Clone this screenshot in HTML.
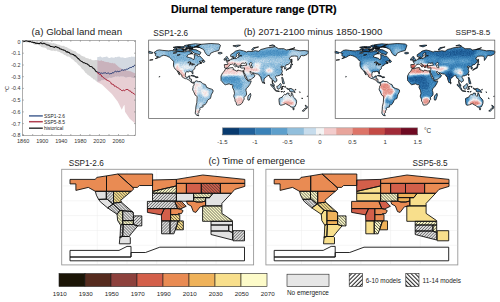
<!DOCTYPE html>
<html><head><meta charset="utf-8"><style>html,body{margin:0;padding:0;background:#fff;}svg{display:block;}</style></head>
<body><svg width="500" height="302" viewBox="0 0 500 302" font-family='"Liberation Sans", sans-serif'>
<defs>
<filter id="cmap" color-interpolation-filters="sRGB" x="0" y="0" width="100%" height="100%">
<feGaussianBlur in="SourceGraphic" stdDeviation="1.0" result="b"/>
<feTurbulence type="fractalNoise" baseFrequency="0.85" numOctaves="2" seed="5" result="n"/>
<feColorMatrix in="n" type="matrix" values="1 0 0 0 0  1 0 0 0 0  1 0 0 0 0  0 0 0 0 1" result="n2"/>
<feComposite in="b" in2="n2" operator="arithmetic" k1="0" k2="1" k3="0.14" k4="-0.07" result="bn"/>
<feComponentTransfer in="bn"><feFuncR type="table" tableValues="0.031 0.125 0.227 0.365 0.573 0.780 0.957 0.953 0.910 0.867 0.769 0.627 0.431"/><feFuncG type="table" tableValues="0.227 0.376 0.510 0.624 0.749 0.863 0.957 0.800 0.647 0.455 0.290 0.165 0.039"/><feFuncB type="table" tableValues="0.431 0.604 0.722 0.800 0.863 0.925 0.957 0.800 0.612 0.408 0.271 0.220 0.133"/><feFuncA type="linear" slope="0" intercept="1"/></feComponentTransfer>
</filter>
<filter id="blur" x="-20%" y="-20%" width="140%" height="140%"><feGaussianBlur stdDeviation="1.5"/></filter>
<filter id="noise" x="0" y="0" width="100%" height="100%"><feTurbulence type="fractalNoise" baseFrequency="0.9" numOctaves="1" seed="3"/><feColorMatrix type="matrix" values="0 0 0 0 1  0 0 0 0 1  0 0 0 0 1  0 0 0 3 -1.4"/></filter>
<pattern id="h1" patternUnits="userSpaceOnUse" width="2.9" height="2.9" patternTransform="rotate(45)"><rect width="2.9" height="2.9" fill="#fff"/><line x1="1.45" y1="0" x2="1.45" y2="2.9" stroke="#222" stroke-width="1.05"/></pattern>
<pattern id="h2" patternUnits="userSpaceOnUse" width="2.9" height="2.9" patternTransform="rotate(-45)"><rect width="2.9" height="2.9" fill="#fff"/><line x1="1.45" y1="0" x2="1.45" y2="2.9" stroke="#222" stroke-width="1.05"/></pattern>
<pattern id="mh1" patternUnits="userSpaceOnUse" width="2.1" height="2.1" patternTransform="rotate(45)"><line x1="1.05" y1="0" x2="1.05" y2="2.1" stroke="#333" stroke-width="0.75" stroke-opacity="0.72"/></pattern>
<pattern id="mh2" patternUnits="userSpaceOnUse" width="2.1" height="2.1" patternTransform="rotate(-45)"><line x1="1.05" y1="0" x2="1.05" y2="2.1" stroke="#333" stroke-width="0.75" stroke-opacity="0.72"/></pattern>
</defs>
<rect width="500" height="302" fill="#fff"/>
<text x="171" y="13" font-size="10.7" font-weight="bold" fill="#000" stroke="#000" stroke-width="0.2" textLength="165.6" lengthAdjust="spacingAndGlyphs">Diurnal temperature range (DTR)</text>
<polygon points="23.0,40.1 23.7,40.7 24.4,40.9 25.1,40.6 25.8,40.6 26.5,40.6 27.2,40.9 28.0,41.1 28.7,40.6 29.4,40.3 30.1,40.9 30.8,40.9 31.5,41.2 32.2,40.7 32.9,40.8 33.6,41.2 34.3,40.9 35.0,41.5 35.8,41.8 36.5,41.1 37.2,40.8 37.9,41.1 38.6,41.7 39.3,41.5 40.0,41.2 40.7,41.4 41.4,41.1 42.1,41.1 42.9,41.4 43.6,41.6 44.3,41.5 45.0,41.5 45.7,41.5 46.4,41.8 47.1,41.8 47.9,41.6 48.6,42.3 49.3,42.5 50.0,42.7 50.8,42.4 51.5,43.1 52.2,43.4 53.0,42.9 53.8,42.9 54.5,43.4 55.2,43.6 56.0,44.1 56.8,44.0 57.5,44.5 58.2,44.7 59.0,44.5 59.8,44.9 60.5,45.4 61.2,45.8 62.0,45.8 62.8,46.1 63.5,45.8 64.2,46.0 65.0,46.8 65.8,47.0 66.5,47.0 67.2,47.5 68.0,48.1 68.8,48.6 69.5,48.8 70.2,49.1 71.0,49.5 71.8,50.1 72.5,50.4 73.2,50.6 74.0,51.0 74.8,51.0 75.5,51.2 76.2,52.1 77.0,53.1 77.8,53.5 78.5,53.7 79.2,53.8 80.0,54.3 80.8,55.3 81.6,55.8 82.4,56.0 83.2,56.6 84.0,56.5 84.8,56.9 85.6,57.8 86.4,58.0 87.2,58.2 88.0,58.3 88.8,58.7 89.6,59.3 90.4,58.8 91.2,59.4 92.0,59.9 92.8,60.2 93.6,60.2 94.4,60.3 95.1,60.1 95.9,60.1 96.7,60.0 97.5,59.6 97.5,82.2 96.7,81.5 95.9,81.0 95.1,79.9 94.4,79.6 93.6,79.4 92.8,78.4 92.0,77.7 91.2,77.6 90.4,76.4 89.6,76.0 88.8,75.6 88.0,74.7 87.2,74.4 86.4,73.2 85.6,72.9 84.8,71.7 84.0,70.7 83.2,69.4 82.4,69.2 81.6,68.4 80.8,67.1 80.0,66.2 79.2,65.5 78.4,64.9 77.6,64.0 76.8,63.1 76.0,62.3 75.2,61.9 74.5,61.3 73.8,60.3 73.0,60.1 72.2,59.1 71.5,58.9 70.8,57.8 70.0,57.6 69.3,56.8 68.5,56.6 67.8,56.5 67.1,56.4 66.4,56.0 65.6,55.3 64.9,55.0 64.2,54.9 63.5,54.3 62.7,53.5 62.0,53.5 61.2,52.9 60.5,52.8 59.8,52.1 59.0,51.9 58.2,51.6 57.5,51.5 56.8,51.1 56.0,50.6 55.3,51.2 54.5,50.9 53.8,50.5 53.1,50.8 52.4,50.7 51.6,50.7 50.9,50.4 50.2,50.3 49.5,50.1 48.7,49.6 48.0,49.9 47.2,49.6 46.5,48.6 45.8,48.0 45.0,47.8 44.2,47.4 43.5,47.5 42.8,47.5 42.0,47.1 41.2,46.9 40.5,46.0 39.8,45.6 39.0,45.3 38.2,44.7 37.5,44.6 36.8,44.7 36.0,44.7 35.2,44.7 34.5,44.8 33.8,44.3 33.0,43.6 32.2,43.0 31.5,42.8 30.8,42.5 30.0,42.7 29.3,42.6 28.6,42.5 27.9,42.3 27.2,42.6 26.5,42.5 25.8,42.3 25.1,41.7 24.4,42.0 23.7,42.7 23.0,42.5" fill="#d6d6d6"/><polygon points="97.2,60.1 97.9,60.4 98.6,60.4 99.3,60.7 100.0,60.9 100.7,60.5 101.5,60.3 102.2,61.1 102.9,60.9 103.6,60.9 104.3,61.7 105.0,61.6 105.7,62.0 106.4,62.0 107.2,62.2 107.9,61.9 108.6,62.2 109.3,62.8 110.1,62.8 110.8,63.0 111.5,63.2 112.2,62.7 113.0,63.2 113.7,63.4 114.4,63.3 115.1,63.4 115.9,64.5 116.6,65.0 117.4,65.7 118.1,66.5 118.8,67.0 119.6,67.7 120.3,67.8 121.1,68.5 121.8,68.8 122.5,69.4 123.3,69.8 124.0,69.4 124.8,69.3 125.5,69.5 126.3,70.4 127.0,70.5 127.7,70.9 128.5,70.8 129.2,71.1 130.0,71.2 130.7,71.3 131.5,71.7 132.2,72.0 133.0,72.6 133.7,72.8 134.5,73.1 135.3,73.2 135.3,123.5 129.7,118.7 125.0,111.7 124.5,104.8 123.5,106.0 121.8,109.8 117.8,101.8 111.9,93.9 101.9,84.5 97.2,82.0" fill="#e7cfd4"/><polygon points="97.2,57.2 97.9,56.9 98.7,56.9 99.4,56.7 100.1,56.5 100.8,56.6 101.5,57.2 102.3,57.4 103.0,57.4 103.7,56.9 104.4,57.0 105.1,56.9 105.8,56.7 106.5,56.6 107.2,56.6 107.9,57.4 108.6,57.8 109.3,58.0 110.0,58.1 110.7,57.5 111.5,57.2 112.2,57.4 112.9,57.5 113.6,57.7 114.4,57.8 115.1,57.1 115.8,57.1 116.5,57.2 117.3,57.1 118.0,56.6 118.7,56.8 119.5,56.5 120.2,57.2 120.9,57.6 121.6,57.5 122.4,57.2 123.1,57.7 123.8,57.6 124.5,57.9 125.3,58.1 126.0,57.9 126.7,57.6 127.4,57.6 128.1,57.4 128.9,57.0 129.6,56.9 130.3,57.3 131.0,56.8 131.7,56.5 132.4,56.8 133.2,56.7 133.9,56.8 134.6,56.8 135.3,56.7 135.3,78.1 134.5,77.8 133.7,78.0 133.0,78.0 132.2,77.4 131.5,77.6 130.7,77.1 130.0,76.8 129.2,76.9 128.5,77.0 127.8,77.1 127.0,77.2 126.3,77.6 125.5,77.4 124.8,77.0 124.0,76.8 123.3,76.2 122.5,76.5 121.8,76.3 121.1,76.6 120.3,76.3 119.6,76.8 118.8,76.7 118.1,76.1 117.3,76.4 116.6,76.8 115.9,76.2 115.1,76.6 114.4,77.1 113.6,77.0 112.9,77.6 112.1,77.3 111.4,77.9 110.7,77.9 110.0,77.4 109.3,77.6 108.6,77.9 107.9,78.5 107.1,78.6 106.4,78.6 105.7,79.0 105.0,79.2 104.3,80.1 103.6,80.0 102.9,80.2 102.2,79.9 101.5,80.1 100.8,81.1 100.0,81.2 99.3,81.4 98.6,81.4 97.9,81.4 97.2,81.4" fill="#d3d9e1"/><clipPath id="pc"><polygon points="97.2,60.1 97.9,60.4 98.6,60.4 99.3,60.7 100.0,60.9 100.7,60.5 101.5,60.3 102.2,61.1 102.9,60.9 103.6,60.9 104.3,61.7 105.0,61.6 105.7,62.0 106.4,62.0 107.2,62.2 107.9,61.9 108.6,62.2 109.3,62.8 110.1,62.8 110.8,63.0 111.5,63.2 112.2,62.7 113.0,63.2 113.7,63.4 114.4,63.3 115.1,63.4 115.9,64.5 116.6,65.0 117.4,65.7 118.1,66.5 118.8,67.0 119.6,67.7 120.3,67.8 121.1,68.5 121.8,68.8 122.5,69.4 123.3,69.8 124.0,69.4 124.8,69.3 125.5,69.5 126.3,70.4 127.0,70.5 127.7,70.9 128.5,70.8 129.2,71.1 130.0,71.2 130.7,71.3 131.5,71.7 132.2,72.0 133.0,72.6 133.7,72.8 134.5,73.1 135.3,73.2 135.3,123.5 129.7,118.7 125.0,111.7 124.5,104.8 123.5,106.0 121.8,109.8 117.8,101.8 111.9,93.9 101.9,84.5 97.2,82.0"/></clipPath><polygon clip-path="url(#pc)" points="97.2,57.2 97.9,56.9 98.7,56.9 99.4,56.7 100.1,56.5 100.8,56.6 101.5,57.2 102.3,57.4 103.0,57.4 103.7,56.9 104.4,57.0 105.1,56.9 105.8,56.7 106.5,56.6 107.2,56.6 107.9,57.4 108.6,57.8 109.3,58.0 110.0,58.1 110.7,57.5 111.5,57.2 112.2,57.4 112.9,57.5 113.6,57.7 114.4,57.8 115.1,57.1 115.8,57.1 116.5,57.2 117.3,57.1 118.0,56.6 118.7,56.8 119.5,56.5 120.2,57.2 120.9,57.6 121.6,57.5 122.4,57.2 123.1,57.7 123.8,57.6 124.5,57.9 125.3,58.1 126.0,57.9 126.7,57.6 127.4,57.6 128.1,57.4 128.9,57.0 129.6,56.9 130.3,57.3 131.0,56.8 131.7,56.5 132.4,56.8 133.2,56.7 133.9,56.8 134.6,56.8 135.3,56.7 135.3,78.1 134.5,77.8 133.7,78.0 133.0,78.0 132.2,77.4 131.5,77.6 130.7,77.1 130.0,76.8 129.2,76.9 128.5,77.0 127.8,77.1 127.0,77.2 126.3,77.6 125.5,77.4 124.8,77.0 124.0,76.8 123.3,76.2 122.5,76.5 121.8,76.3 121.1,76.6 120.3,76.3 119.6,76.8 118.8,76.7 118.1,76.1 117.3,76.4 116.6,76.8 115.9,76.2 115.1,76.6 114.4,77.1 113.6,77.0 112.9,77.6 112.1,77.3 111.4,77.9 110.7,77.9 110.0,77.4 109.3,77.6 108.6,77.9 107.9,78.5 107.1,78.6 106.4,78.6 105.7,79.0 105.0,79.2 104.3,80.1 103.6,80.0 102.9,80.2 102.2,79.9 101.5,80.1 100.8,81.1 100.0,81.2 99.3,81.4 98.6,81.4 97.9,81.4 97.2,81.4" fill="#c9b2bc"/><polyline points="23.2,41.4 23.9,41.6 24.6,41.4 25.4,41.0 26.1,40.5 26.8,41.0 27.5,41.1 28.2,41.5 29.0,41.3 29.7,41.7 30.4,41.3 31.1,41.9 31.8,42.3 32.5,42.2 33.2,42.4 33.9,42.8 34.6,42.5 35.3,42.9 36.0,43.5 36.8,43.1 37.6,43.4 38.4,43.5 39.2,43.7 40.0,43.2 40.8,42.6 41.5,43.3 42.2,43.8 42.9,43.7 43.6,43.3 44.3,43.3 45.0,43.9 45.7,43.9 46.4,44.8 47.1,44.9 47.8,44.7 48.5,45.2 49.2,45.2 49.9,46.0 50.6,46.5 51.3,46.4 52.0,46.6 52.8,46.8 53.6,47.1 54.4,47.5 55.2,46.6 56.0,46.6 56.7,47.2 57.4,47.3 58.1,47.8 58.8,47.7 59.6,48.7 60.3,49.0 61.0,48.8 61.7,49.5 62.4,49.7 63.1,49.7 63.8,50.2 64.5,50.2 65.2,50.5 65.9,51.5 66.6,52.0 67.3,51.6 68.0,52.5 68.7,52.2 69.4,52.6 70.1,53.6 70.8,54.0 71.5,54.0 72.3,54.3 73.0,54.6 73.7,54.6 74.4,55.8 75.1,55.5 75.8,56.1 76.5,57.1 77.2,57.4 77.9,58.6 78.6,58.6 79.3,59.7 80.0,60.4 80.7,60.8 81.4,61.5 82.1,61.5 82.8,62.2 83.5,62.7 84.2,62.8 85.0,63.1 85.7,63.6 86.4,63.8 87.1,63.7 87.8,64.6 88.5,64.9 89.2,65.5 89.9,66.5 90.6,66.5 91.4,66.6 92.1,67.0 92.8,68.0 93.5,68.5 94.2,68.9 95.0,69.9 95.8,71.3 96.7,71.7 97.5,72.4" fill="none" stroke="#111" stroke-width="1.05" stroke-linejoin="round"/><polyline points="97.5,72.4 98.2,72.2 98.9,72.9 99.6,72.6 100.3,73.2 101.0,73.4 101.7,73.0 102.4,73.4 103.1,72.9 103.9,73.2 104.6,72.9 105.3,72.7 106.0,73.1 106.7,73.8 107.4,73.1 108.1,72.9 108.9,73.3 109.6,73.9 110.3,73.7 111.0,73.3 111.7,73.7 112.4,72.6 113.1,73.1 113.9,72.4 114.6,71.8 115.3,71.3 116.0,71.3 116.7,71.9 117.4,71.3 118.1,71.5 118.9,71.7 119.6,71.3 120.3,71.3 121.0,70.6 121.7,70.0 122.4,69.9 123.1,70.3 123.9,70.2 124.6,69.8 125.3,69.9 126.0,69.7 126.7,69.1 127.4,69.2 128.1,69.0 128.9,68.1 129.6,67.8 130.3,67.5 131.0,67.6 131.7,67.4 132.4,66.5 133.2,66.9 133.9,65.8 134.6,65.5 135.3,65.7" fill="none" stroke="#1f3470" stroke-width="0.95" stroke-linejoin="round"/><polyline points="97.5,72.2 98.2,73.7 98.9,73.5 99.6,74.5 100.3,74.5 101.1,74.9 101.8,76.6 102.5,76.6 103.2,77.5 103.9,78.0 104.7,78.5 105.4,79.1 106.2,79.2 106.9,80.5 107.7,80.4 108.4,80.8 109.2,80.9 109.9,81.7 110.7,82.5 111.4,84.0 112.2,84.3 112.9,84.3 113.7,84.7 114.5,86.3 115.3,85.9 116.2,86.8 117.0,87.2 117.8,88.0 118.5,88.1 119.3,88.8 120.0,89.1 120.8,89.7 121.5,90.5 122.3,90.7 123.0,90.3 123.8,90.1 124.6,90.7 125.4,90.2 126.2,89.3 127.0,89.8 127.8,89.3 128.5,90.1 129.3,91.0 130.0,90.9 130.8,91.3 131.5,92.5 132.2,92.4 133.0,93.5 133.7,93.4 134.5,94.3 135.3,94.9" fill="none" stroke="#a0142a" stroke-width="0.95" stroke-linejoin="round"/><rect x="22.6" y="40.5" width="112.70000000000002" height="94.80000000000001" fill="none" stroke="#7a7a7a" stroke-width="0.6"/><line x1="22.6" y1="41.5" x2="23.8" y2="41.5" stroke="#555" stroke-width="0.5"/><line x1="135.3" y1="41.5" x2="134.10000000000002" y2="41.5" stroke="#555" stroke-width="0.5"/><text x="20.4" y="43.5" text-anchor="end" font-size="5.3" fill="#333">0</text><line x1="22.6" y1="53.2" x2="23.8" y2="53.2" stroke="#555" stroke-width="0.5"/><line x1="135.3" y1="53.2" x2="134.10000000000002" y2="53.2" stroke="#555" stroke-width="0.5"/><text x="20.4" y="55.2" text-anchor="end" font-size="5.3" fill="#333">-0.1</text><line x1="22.6" y1="65.0" x2="23.8" y2="65.0" stroke="#555" stroke-width="0.5"/><line x1="135.3" y1="65.0" x2="134.10000000000002" y2="65.0" stroke="#555" stroke-width="0.5"/><text x="20.4" y="67.0" text-anchor="end" font-size="5.3" fill="#333">-0.2</text><line x1="22.6" y1="76.7" x2="23.8" y2="76.7" stroke="#555" stroke-width="0.5"/><line x1="135.3" y1="76.7" x2="134.10000000000002" y2="76.7" stroke="#555" stroke-width="0.5"/><text x="20.4" y="78.7" text-anchor="end" font-size="5.3" fill="#333">-0.3</text><line x1="22.6" y1="88.4" x2="23.8" y2="88.4" stroke="#555" stroke-width="0.5"/><line x1="135.3" y1="88.4" x2="134.10000000000002" y2="88.4" stroke="#555" stroke-width="0.5"/><text x="20.4" y="90.4" text-anchor="end" font-size="5.3" fill="#333">-0.4</text><line x1="22.6" y1="100.1" x2="23.8" y2="100.1" stroke="#555" stroke-width="0.5"/><line x1="135.3" y1="100.1" x2="134.10000000000002" y2="100.1" stroke="#555" stroke-width="0.5"/><text x="20.4" y="102.1" text-anchor="end" font-size="5.3" fill="#333">-0.5</text><line x1="22.6" y1="111.9" x2="23.8" y2="111.9" stroke="#555" stroke-width="0.5"/><line x1="135.3" y1="111.9" x2="134.10000000000002" y2="111.9" stroke="#555" stroke-width="0.5"/><text x="20.4" y="113.9" text-anchor="end" font-size="5.3" fill="#333">-0.6</text><line x1="22.6" y1="123.6" x2="23.8" y2="123.6" stroke="#555" stroke-width="0.5"/><line x1="135.3" y1="123.6" x2="134.10000000000002" y2="123.6" stroke="#555" stroke-width="0.5"/><text x="20.4" y="125.6" text-anchor="end" font-size="5.3" fill="#333">-0.7</text><line x1="22.6" y1="135.3" x2="23.8" y2="135.3" stroke="#555" stroke-width="0.5"/><line x1="135.3" y1="135.3" x2="134.10000000000002" y2="135.3" stroke="#555" stroke-width="0.5"/><text x="20.4" y="137.3" text-anchor="end" font-size="5.3" fill="#333">-0.8</text><line x1="23.2" y1="135.3" x2="23.2" y2="134.10000000000002" stroke="#555" stroke-width="0.5"/><line x1="23.2" y1="40.5" x2="23.2" y2="41.7" stroke="#555" stroke-width="0.5"/><text x="23.2" y="142.8" text-anchor="middle" font-size="5.5" fill="#333">1860</text><line x1="32.7" y1="135.3" x2="32.7" y2="134.10000000000002" stroke="#555" stroke-width="0.5"/><line x1="32.7" y1="40.5" x2="32.7" y2="41.7" stroke="#555" stroke-width="0.5"/><line x1="42.3" y1="135.3" x2="42.3" y2="134.10000000000002" stroke="#555" stroke-width="0.5"/><line x1="42.3" y1="40.5" x2="42.3" y2="41.7" stroke="#555" stroke-width="0.5"/><text x="42.3" y="142.8" text-anchor="middle" font-size="5.5" fill="#333">1900</text><line x1="51.8" y1="135.3" x2="51.8" y2="134.10000000000002" stroke="#555" stroke-width="0.5"/><line x1="51.8" y1="40.5" x2="51.8" y2="41.7" stroke="#555" stroke-width="0.5"/><line x1="61.3" y1="135.3" x2="61.3" y2="134.10000000000002" stroke="#555" stroke-width="0.5"/><line x1="61.3" y1="40.5" x2="61.3" y2="41.7" stroke="#555" stroke-width="0.5"/><text x="61.3" y="142.8" text-anchor="middle" font-size="5.5" fill="#333">1940</text><line x1="70.8" y1="135.3" x2="70.8" y2="134.10000000000002" stroke="#555" stroke-width="0.5"/><line x1="70.8" y1="40.5" x2="70.8" y2="41.7" stroke="#555" stroke-width="0.5"/><line x1="80.4" y1="135.3" x2="80.4" y2="134.10000000000002" stroke="#555" stroke-width="0.5"/><line x1="80.4" y1="40.5" x2="80.4" y2="41.7" stroke="#555" stroke-width="0.5"/><text x="80.4" y="142.8" text-anchor="middle" font-size="5.5" fill="#333">1980</text><line x1="89.9" y1="135.3" x2="89.9" y2="134.10000000000002" stroke="#555" stroke-width="0.5"/><line x1="89.9" y1="40.5" x2="89.9" y2="41.7" stroke="#555" stroke-width="0.5"/><line x1="99.4" y1="135.3" x2="99.4" y2="134.10000000000002" stroke="#555" stroke-width="0.5"/><line x1="99.4" y1="40.5" x2="99.4" y2="41.7" stroke="#555" stroke-width="0.5"/><text x="99.4" y="142.8" text-anchor="middle" font-size="5.5" fill="#333">2020</text><line x1="109.0" y1="135.3" x2="109.0" y2="134.10000000000002" stroke="#555" stroke-width="0.5"/><line x1="109.0" y1="40.5" x2="109.0" y2="41.7" stroke="#555" stroke-width="0.5"/><line x1="118.5" y1="135.3" x2="118.5" y2="134.10000000000002" stroke="#555" stroke-width="0.5"/><line x1="118.5" y1="40.5" x2="118.5" y2="41.7" stroke="#555" stroke-width="0.5"/><text x="118.5" y="142.8" text-anchor="middle" font-size="5.5" fill="#333">2060</text><line x1="128.0" y1="135.3" x2="128.0" y2="134.10000000000002" stroke="#555" stroke-width="0.5"/><line x1="128.0" y1="40.5" x2="128.0" y2="41.7" stroke="#555" stroke-width="0.5"/><text x="8.5" y="89" font-size="5.6" fill="#333" transform="rotate(-90 8.5 89)" text-anchor="middle">°C</text><line x1="29" y1="115.9" x2="42.8" y2="115.9" stroke="#4a6494" stroke-width="1.5"/><text x="44" y="117.7" font-size="4.9" fill="#222">SSP1-2.6</text><line x1="29" y1="121.7" x2="42.8" y2="121.7" stroke="#b04050" stroke-width="1.5"/><text x="44" y="123.5" font-size="4.9" fill="#222">SSP5-8.5</text><line x1="29" y1="128.2" x2="42.8" y2="128.2" stroke="#383838" stroke-width="1.5"/><text x="44" y="130.0" font-size="4.9" fill="#222">historical</text><text x="31.6" y="34.8" font-size="9.7" fill="#222">(a) Global land mean</text>
<text x="153.3" y="35.5" font-size="8.15" fill="#222">SSP1-2.6</text>
<text x="243.7" y="35.3" font-size="9.71" fill="#222">(b) 2071-2100 minus 1850-1900</text>
<text x="455.6" y="35.4" font-size="8.08" fill="#222">SSP5-8.5</text>
<clipPath id="land1"><path d="M154.0,52.6 L155.8,51.3 L156.7,50.5 L159.3,49.9 L162.9,50.4 L166.0,50.7 L168.6,50.9 L171.8,50.5 L175.3,51.1 L177.5,51.3 L180.6,51.6 L184.2,51.8 L186.4,51.6 L187.7,50.8 L189.5,51.3 L191.3,52.1 L192.1,52.6 L190.4,53.9 L188.6,54.5 L186.8,56.0 L187.3,57.1 L189.5,57.6 L192.1,58.4 L193.5,59.9 L194.4,58.1 L194.4,55.8 L193.9,54.5 L196.6,55.0 L198.4,56.3 L199.7,55.8 L201.5,57.8 L203.2,59.4 L203.7,60.2 L201.9,60.9 L199.2,61.5 L199.7,61.8 L201.5,63.1 L199.2,63.9 L197.5,64.4 L197.5,65.4 L195.7,65.9 L194.8,67.8 L194.8,68.8 L192.6,70.6 L193.0,73.0 L192.8,74.0 L192.1,73.2 L191.7,71.7 L189.5,71.2 L188.6,71.9 L186.8,71.7 L185.5,72.7 L185.3,75.6 L185.9,77.2 L186.8,77.4 L188.2,77.2 L188.4,76.1 L189.9,75.9 L189.5,78.7 L191.3,79.0 L191.5,81.3 L192.6,82.4 L193.9,82.1 L194.2,82.6 L193.3,83.2 L192.1,82.8 L190.6,81.9 L189.7,80.3 L187.7,79.5 L186.4,78.7 L185.5,78.7 L183.7,77.9 L181.9,76.6 L181.7,75.1 L180.2,73.5 L178.6,71.4 L177.7,70.9 L178.0,71.4 L178.8,72.2 L179.7,74.6 L179.5,75.1 L178.8,74.1 L178.0,72.5 L177.1,70.9 L176.6,70.1 L175.1,69.1 L174.2,67.5 L173.5,65.9 L173.5,62.8 L174.0,61.8 L173.1,61.0 L170.9,58.6 L169.5,57.3 L167.8,56.5 L166.4,55.8 L163.8,55.2 L161.6,56.0 L160.2,57.1 L158.5,57.6 L156.7,58.4 L155.3,58.6 L158.5,56.8 L156.7,56.5 L155.3,55.5 L155.3,54.5 L156.2,53.7 L154.0,52.9Z"/><path d="M196.1,46.4 L201.0,44.3 L210.8,43.5 L218.7,44.0 L220.5,45.3 L219.6,47.9 L218.7,50.5 L214.3,51.6 L210.8,53.1 L209.4,55.8 L207.2,55.2 L205.4,53.1 L204.6,51.6 L203.7,49.5 L199.2,47.4 L196.1,46.4Z"/><path d="M194.4,82.6 L195.2,81.3 L196.6,80.8 L198.4,81.6 L200.1,81.5 L201.9,82.6 L203.2,83.9 L205.4,84.5 L206.3,86.3 L206.3,87.1 L209.0,88.4 L211.7,89.2 L213.0,90.0 L213.0,91.8 L211.2,94.9 L211.0,96.5 L210.3,98.6 L209.0,99.1 L207.2,100.7 L207.0,102.0 L205.0,104.8 L202.8,105.1 L203.2,106.9 L201.0,107.4 L199.7,108.5 L200.1,109.5 L198.8,111.1 L199.2,112.1 L197.9,113.7 L198.1,114.5 L198.8,115.8 L196.6,115.3 L195.2,113.2 L195.7,110.0 L195.9,106.4 L196.8,102.7 L197.2,96.5 L195.2,95.2 L193.5,91.3 L192.8,90.2 L192.6,89.2 L193.0,87.6 L193.0,86.6 L194.1,85.0 L194.1,83.2Z"/><path d="M224.3,64.6 L224.5,66.7 L224.5,67.8 L225.8,68.2 L227.6,67.9 L228.5,66.7 L229.8,65.2 L230.1,64.5 L231.6,64.4 L232.5,64.0 L233.2,64.6 L234.0,65.4 L235.4,67.0 L235.6,67.2 L236.0,66.7 L236.7,66.1 L235.6,65.4 L234.0,63.9 L234.5,63.3 L235.1,63.6 L236.9,65.2 L237.4,66.5 L238.5,68.0 L239.1,67.2 L238.7,65.9 L240.0,65.8 L241.4,65.7 L240.5,66.2 L240.2,67.0 L240.7,67.8 L241.8,68.1 L244.5,67.9 L244.5,69.1 L244.0,70.1 L243.7,70.7 L243.8,71.7 L244.0,72.5 L244.9,74.0 L245.8,75.9 L247.3,79.2 L247.8,80.5 L248.4,80.3 L251.6,79.0 L252.9,77.9 L254.1,77.2 L255.0,75.3 L253.5,74.3 L253.3,73.2 L251.6,74.6 L251.3,73.8 L250.7,73.2 L249.8,71.7 L250.9,71.4 L252.4,73.1 L253.8,73.0 L256.0,73.9 L258.2,74.1 L258.9,74.8 L259.5,76.1 L260.8,76.9 L261.1,79.0 L261.8,80.8 L262.6,82.9 L264.0,81.9 L264.1,80.0 L264.0,79.0 L265.3,77.9 L267.1,76.1 L268.0,75.6 L269.3,75.3 L269.5,76.4 L270.4,78.2 L271.7,78.5 L272.2,80.3 L272.2,81.9 L273.1,83.2 L274.2,84.7 L274.4,86.3 L273.3,85.8 L272.2,82.9 L272.8,80.4 L273.7,80.7 L275.0,82.5 L275.7,81.6 L276.8,81.1 L276.8,79.2 L275.7,77.7 L275.5,76.6 L276.4,75.9 L277.7,75.9 L279.0,75.4 L280.4,75.0 L281.7,73.2 L282.4,71.4 L282.1,70.4 L281.5,68.8 L282.8,67.8 L280.8,67.2 L280.8,66.7 L282.1,65.9 L282.6,66.7 L283.9,66.5 L284.6,67.8 L284.6,69.1 L285.7,68.8 L285.9,67.5 L285.2,66.5 L286.1,64.9 L288.4,64.4 L290.6,62.0 L291.0,59.9 L289.2,58.9 L291.0,56.3 L294.6,56.0 L297.2,56.2 L297.7,57.3 L297.9,60.5 L299.9,57.8 L300.8,55.8 L301.6,55.5 L303.9,55.8 L307.0,54.5 L308.3,53.1 L308.3,51.1 L303.9,50.5 L299.9,50.8 L295.0,49.8 L290.6,49.2 L286.1,50.0 L283.9,48.7 L278.6,48.7 L275.0,46.6 L271.9,47.4 L267.5,47.7 L264.0,48.7 L260.9,49.5 L258.6,51.3 L255.1,50.7 L252.0,51.5 L248.0,51.3 L246.7,52.1 L243.6,50.9 L239.6,50.0 L235.6,51.1 L233.8,52.6 L230.7,54.7 L230.7,56.5 L232.0,56.8 L233.2,56.0 L233.8,56.8 L233.4,57.8 L232.5,57.3 L232.0,58.4 L232.3,59.2 L230.7,59.4 L230.1,60.3 L229.2,60.7 L227.8,61.2 L226.5,61.8 L227.8,63.1 L227.8,64.4 L224.3,64.6Z"/><path d="M221.0,79.4 L221.0,76.1 L222.7,72.7 L224.2,71.4 L225.8,68.4 L227.6,68.8 L229.8,67.9 L232.9,67.6 L233.4,68.8 L232.9,69.4 L235.1,70.2 L237.1,71.3 L237.8,70.0 L239.6,70.5 L241.4,71.0 L242.8,70.8 L243.7,70.8 L243.8,71.7 L243.1,72.2 L242.9,71.5 L244.2,74.6 L245.1,77.4 L246.0,79.0 L247.7,80.6 L248.0,81.1 L251.2,80.9 L251.1,81.6 L249.8,84.5 L247.8,87.3 L246.2,88.6 L245.9,90.5 L246.5,92.6 L246.5,94.9 L244.0,97.5 L244.2,99.6 L243.0,100.5 L242.9,102.0 L241.8,103.5 L240.0,104.8 L237.4,105.2 L236.6,104.8 L236.0,102.2 L235.1,101.2 L234.9,99.1 L233.7,96.2 L234.5,93.3 L233.9,90.2 L232.5,87.6 L232.8,85.3 L232.3,84.7 L230.9,84.7 L229.2,83.8 L226.7,84.4 L225.2,84.8 L223.6,83.5 L222.5,82.1 L221.8,81.3 L221.1,80.6 L221.0,79.4Z"/><path d="M148.7,53.1 L152.2,53.4 L153.1,52.6 L148.7,51.1Z"/><path d="M176.2,51.1 L183.7,51.3 L183.7,49.0 L180.6,48.7 L177.5,49.0 L175.7,49.8Z"/><path d="M188.6,47.1 L193.9,47.4 L201.0,44.3 L195.2,43.8 L187.7,44.8Z"/><path d="M188.6,50.0 L193.0,49.5 L196.1,49.8 L201.0,52.4 L199.7,54.7 L194.8,53.4 L190.8,50.5Z"/><path d="M173.1,49.8 L175.3,48.2 L177.1,48.7 L176.2,50.0Z"/><path d="M186.4,48.5 L193.0,48.5 L193.0,47.1 L186.4,47.4Z"/><path d="M178.8,47.9 L184.2,47.9 L184.2,46.6 L177.5,46.9Z"/><path d="M185.1,49.5 L187.3,49.5 L187.3,48.5 L185.1,48.7Z"/><path d="M190.4,53.7 L193.0,53.9 L192.1,52.9Z"/><path d="M185.5,47.1 L189.5,46.9 L190.8,46.1 L186.4,45.1 L184.2,45.8Z"/><path d="M173.1,47.4 L178.0,47.7 L180.6,47.1 L176.2,46.6Z"/><path d="M181.9,49.0 L185.5,49.5 L186.4,50.5 L182.8,50.3Z"/><path d="M189.5,49.0 L192.1,49.2 L193.0,48.7 L188.6,48.5Z"/><path d="M193.9,47.1 L199.7,47.4 L196.6,46.4Z"/><path d="M248.0,100.1 L249.3,100.1 L250.9,95.2 L250.4,93.3 L249.8,94.1 L248.0,96.0 L247.7,98.6Z"/><path d="M279.0,98.6 L279.0,100.7 L279.5,104.6 L280.8,105.3 L283.3,104.7 L285.7,103.6 L288.4,105.2 L289.7,105.6 L290.6,106.9 L293.2,107.4 L295.0,106.7 L296.3,103.8 L296.6,101.7 L296.3,100.1 L294.6,98.0 L293.2,96.7 L292.9,94.9 L291.7,92.7 L291.2,93.9 L291.2,96.0 L290.3,96.2 L288.8,94.9 L289.2,93.3 L287.0,93.0 L285.9,94.9 L284.6,94.3 L282.6,96.2 L282.1,97.3 L280.4,97.8Z"/><path d="M292.8,108.4 L294.2,108.5 L293.9,109.8 L293.2,109.8Z"/><path d="M305.2,105.1 L307.6,106.8 L306.7,108.7 L305.9,108.6 L306.1,107.2Z"/><path d="M305.1,108.2 L305.8,108.8 L304.1,111.2 L302.3,111.1 L303.1,110.0Z"/><path d="M270.7,84.2 L271.9,85.0 L274.6,87.6 L275.5,90.2 L274.4,89.7 L273.1,87.6 L270.8,85.5Z"/><path d="M276.8,86.3 L277.3,88.6 L279.0,89.2 L280.1,88.1 L280.8,86.6 L281.3,84.5 L280.4,83.4 L278.6,85.5 L277.3,86.3Z"/><path d="M275.3,90.6 L279.3,91.1 L279.3,91.6 L275.7,91.0Z"/><path d="M281.3,90.0 L281.9,86.6 L283.9,86.3 L282.1,86.8 L283.0,89.2 L282.1,88.6Z"/><path d="M286.6,87.9 L288.4,88.9 L291.0,88.4 L293.9,90.2 L295.2,92.6 L293.2,91.8 L292.1,91.8 L291.0,91.9 L289.7,91.4 L289.5,89.7 L287.5,89.2 L286.8,88.6Z"/><path d="M281.7,77.4 L282.6,77.4 L283.5,80.3 L284.4,83.4 L284.1,83.9 L282.6,83.4 L282.1,79.2Z"/><path d="M286.4,70.6 L287.0,69.3 L288.4,68.4 L290.6,68.3 L291.2,66.7 L291.2,65.4 L290.6,65.7 L290.6,67.0 L289.2,67.8 L288.6,69.3 L286.6,69.3Z"/><path d="M290.6,65.2 L293.0,64.5 L291.4,63.4Z"/><path d="M291.5,63.1 L292.1,61.5 L291.7,58.9 L291.5,60.5Z"/><path d="M281.9,74.0 L282.6,74.0 L282.1,75.6Z"/><path d="M264.0,83.9 L264.8,83.2 L264.0,82.0Z"/><path d="M226.1,61.0 L229.2,60.5 L229.2,59.4 L228.3,58.6 L227.6,57.8 L227.7,57.0 L226.7,56.5 L226.3,56.5 L225.7,57.6 L226.3,58.4 L227.2,58.9 L226.3,59.7 L226.5,60.1Z"/><path d="M224.1,60.2 L225.8,59.9 L225.8,58.9 L225.0,58.3 L224.1,58.9Z"/><path d="M217.9,52.9 L218.7,52.4 L221.4,52.4 L222.3,53.1 L220.5,53.9 L218.7,53.8Z"/><path d="M232.9,45.8 L238.3,45.1 L240.5,45.3 L236.5,46.9Z"/><path d="M251.6,50.0 L253.3,47.7 L258.6,46.9 L254.2,48.5 L252.9,50.3Z"/><path d="M269.3,45.8 L272.8,44.8 L275.0,46.1Z"/><path d="M289.2,49.8 L295.0,47.7 L291.5,49.0Z"/><path d="M193.0,75.1 L195.7,76.6 L194.4,76.6 L190.8,75.6Z"/><path d="M195.7,76.9 L197.9,76.8 L198.1,77.5 L195.7,77.7Z"/><path d="M159.3,77.2 L159.8,76.6 L159.3,76.4Z"/><path d="M149.6,60.2 L153.1,59.7 L150.9,59.9Z"/><path d="M283.9,91.5 L284.8,91.4 L283.5,92.3Z"/><path d="M280.8,91.5 L282.6,91.5 L281.7,92.0Z"/><path d="M284.4,86.6 L285.5,86.3 L285.2,87.6Z"/><path d="M295.0,89.7 L295.9,89.2 L295.4,90.2Z"/><path d="M299.4,91.8 L300.3,92.3 L299.9,92.6Z"/><path d="M302.1,98.0 L302.8,98.6 L301.6,98.3Z"/><path d="M307.4,96.0 L307.9,96.2 L307.2,96.5Z"/><path d="M200.6,63.3 L201.9,62.8 L200.1,62.5Z"/><path d="M204.1,62.5 L205.0,61.2 L203.2,60.2 L202.3,62.0Z"/></clipPath>
<g clip-path="url(#land1)"><g filter="url(#cmap)"><rect x="148.7" y="40.1" width="159.6" height="78.3" fill="#555555"/><ellipse cx="179.7" cy="54.7" rx="26.6" ry="7.3" fill="#4c4c4c"/><ellipse cx="186.4" cy="48.5" rx="15.5" ry="3.7" fill="#333333"/><ellipse cx="161.1" cy="53.7" rx="5.3" ry="3.1" fill="#595959"/><ellipse cx="197.5" cy="58.9" rx="4.4" ry="3.1" fill="#4c4c4c"/><ellipse cx="184.2" cy="59.9" rx="11.1" ry="2.6" fill="#4c4c4c"/><ellipse cx="185.1" cy="63.1" rx="8.9" ry="2.1" fill="#626262"/><ellipse cx="186.4" cy="67.2" rx="6.2" ry="2.6" fill="#797979"/><ellipse cx="193.0" cy="67.2" rx="2.7" ry="3.1" fill="#6e6e6e"/><ellipse cx="177.1" cy="67.8" rx="2.2" ry="3.7" fill="#999999"/><ellipse cx="180.6" cy="71.4" rx="2.7" ry="2.6" fill="#999999"/><ellipse cx="183.3" cy="75.6" rx="3.1" ry="3.1" fill="#a2a2a2"/><ellipse cx="189.5" cy="79.8" rx="2.7" ry="2.1" fill="#848484"/><ellipse cx="209.9" cy="49.5" rx="8.9" ry="6.3" fill="#555555"/><ellipse cx="210.8" cy="51.6" rx="3.5" ry="4.2" fill="#626262"/><ellipse cx="197.5" cy="85.0" rx="4.4" ry="3.1" fill="#888888"/><ellipse cx="200.1" cy="90.2" rx="4.4" ry="3.7" fill="#6e6e6e"/><ellipse cx="205.4" cy="93.3" rx="3.5" ry="3.7" fill="#888888"/><ellipse cx="210.8" cy="92.3" rx="2.2" ry="4.2" fill="#555555"/><ellipse cx="205.4" cy="100.7" rx="3.5" ry="3.7" fill="#595959"/><ellipse cx="200.6" cy="104.8" rx="2.7" ry="2.6" fill="#737373"/><ellipse cx="195.2" cy="95.4" rx="1.8" ry="9.4" fill="#9d9d9d"/><ellipse cx="197.5" cy="111.6" rx="1.8" ry="3.1" fill="#a2a2a2"/><ellipse cx="239.6" cy="53.1" rx="8.0" ry="3.7" fill="#404040"/><ellipse cx="232.9" cy="60.5" rx="6.2" ry="1.6" fill="#6a6a6a"/><ellipse cx="244.0" cy="59.4" rx="6.6" ry="2.6" fill="#5e5e5e"/><ellipse cx="227.2" cy="65.7" rx="4.0" ry="2.6" fill="#a2a2a2"/><ellipse cx="230.7" cy="63.1" rx="4.4" ry="2.1" fill="#999999"/><ellipse cx="238.3" cy="64.1" rx="6.2" ry="2.1" fill="#9d9d9d"/><ellipse cx="244.0" cy="62.5" rx="3.5" ry="1.6" fill="#909090"/><ellipse cx="247.1" cy="67.8" rx="4.4" ry="2.6" fill="#9d9d9d"/><ellipse cx="252.9" cy="69.9" rx="4.4" ry="2.1" fill="#999999"/><ellipse cx="232.9" cy="70.9" rx="12.4" ry="2.6" fill="#999999"/><ellipse cx="229.8" cy="73.5" rx="8.9" ry="3.1" fill="#909090"/><ellipse cx="240.9" cy="73.5" rx="3.5" ry="2.6" fill="#848484"/><ellipse cx="230.7" cy="79.2" rx="9.8" ry="3.7" fill="#373737"/><ellipse cx="237.4" cy="85.0" rx="6.6" ry="4.2" fill="#404040"/><ellipse cx="235.1" cy="91.8" rx="3.5" ry="2.6" fill="#626262"/><ellipse cx="245.3" cy="86.0" rx="2.7" ry="4.2" fill="#595959"/><ellipse cx="239.6" cy="100.7" rx="5.3" ry="4.7" fill="#999999"/><ellipse cx="248.4" cy="76.1" rx="4.0" ry="3.1" fill="#5e5e5e"/><ellipse cx="248.0" cy="71.9" rx="2.7" ry="2.1" fill="#8c8c8c"/><ellipse cx="250.7" cy="78.7" rx="2.2" ry="1.6" fill="#777777"/><ellipse cx="249.3" cy="97.0" rx="1.3" ry="2.6" fill="#6e6e6e"/><ellipse cx="259.5" cy="53.7" rx="12.4" ry="3.7" fill="#3b3b3b"/><ellipse cx="277.3" cy="52.6" rx="14.2" ry="3.7" fill="#373737"/><ellipse cx="261.8" cy="61.0" rx="8.9" ry="2.1" fill="#626262"/><ellipse cx="277.3" cy="61.0" rx="6.6" ry="2.1" fill="#5e5e5e"/><ellipse cx="257.3" cy="65.2" rx="3.5" ry="2.1" fill="#888888"/><ellipse cx="256.0" cy="69.9" rx="4.0" ry="2.1" fill="#9d9d9d"/><ellipse cx="269.3" cy="70.4" rx="3.5" ry="2.1" fill="#959595"/><ellipse cx="263.1" cy="76.1" rx="4.0" ry="4.2" fill="#484848"/><ellipse cx="279.5" cy="70.4" rx="4.4" ry="4.2" fill="#4c4c4c"/><ellipse cx="274.2" cy="79.2" rx="3.5" ry="3.1" fill="#595959"/><ellipse cx="295.0" cy="54.7" rx="6.6" ry="4.2" fill="#626262"/><ellipse cx="279.5" cy="87.6" rx="6.6" ry="3.1" fill="#626262"/><ellipse cx="287.5" cy="96.0" rx="6.2" ry="2.1" fill="#7b7b7b"/><ellipse cx="288.4" cy="99.6" rx="6.2" ry="1.6" fill="#848484"/><ellipse cx="288.4" cy="103.3" rx="7.1" ry="2.6" fill="#aaaaaa"/><ellipse cx="304.8" cy="109.0" rx="2.7" ry="3.1" fill="#737373"/></g></g>
<g fill="#fff"><path d="M187.7,62.7 L189.5,61.6 L191.0,62.5 L189.5,62.8Z"/><path d="M189.7,65.3 L190.6,63.3 L191.3,63.1 L192.8,63.6 L191.9,64.6 L191.7,65.2 L193.5,64.7 L194.6,64.3 L193.9,64.1 L192.6,64.6 L190.2,63.1Z"/><path d="M173.1,53.1 L176.2,52.1 L176.6,52.9 L174.4,53.4Z"/><path d="M177.1,55.2 L180.2,54.5 L178.8,55.2Z"/><path d="M240.9,65.7 L240.9,64.1 L241.8,63.3 L243.1,63.1 L244.5,63.4 L245.8,62.5 L246.9,65.2 L244.5,65.4 L242.2,65.7Z"/><path d="M249.3,63.9 L250.2,62.8 L251.3,62.5 L252.0,63.6 L251.1,64.9 L252.0,66.2 L252.4,67.8 L250.9,67.8 L250.2,67.0 L250.4,65.9 L249.6,64.9Z"/><path d="M232.9,58.6 L234.7,58.4 L236.5,58.5 L237.8,57.3 L239.1,57.1 L238.7,56.0 L241.8,55.8 L239.6,55.2 L238.0,55.2 L239.6,52.9 L238.0,52.9 L236.3,54.5 L236.9,55.8 L235.8,57.3 L234.3,58.0Z"/></g>
<g fill="none" stroke="#0a0a0a" stroke-width="0.75" stroke-linejoin="round"><path d="M154.0,52.6 L155.8,51.3 L156.7,50.5 L159.3,49.9 L162.9,50.4 L166.0,50.7 L168.6,50.9 L171.8,50.5 L175.3,51.1 L177.5,51.3 L180.6,51.6 L184.2,51.8 L186.4,51.6 L187.7,50.8 L189.5,51.3 L191.3,52.1 L192.1,52.6 L190.4,53.9 L188.6,54.5 L186.8,56.0 L187.3,57.1 L189.5,57.6 L192.1,58.4 L193.5,59.9 L194.4,58.1 L194.4,55.8 L193.9,54.5 L196.6,55.0 L198.4,56.3 L199.7,55.8 L201.5,57.8 L203.2,59.4 L203.7,60.2 L201.9,60.9 L199.2,61.5 L199.7,61.8 L201.5,63.1 L199.2,63.9 L197.5,64.4 L197.5,65.4 L195.7,65.9 L194.8,67.8 L194.8,68.8 L192.6,70.6 L193.0,73.0 L192.8,74.0 L192.1,73.2 L191.7,71.7 L189.5,71.2 L188.6,71.9 L186.8,71.7 L185.5,72.7 L185.3,75.6 L185.9,77.2 L186.8,77.4 L188.2,77.2 L188.4,76.1 L189.9,75.9 L189.5,78.7 L191.3,79.0 L191.5,81.3 L192.6,82.4 L193.9,82.1 L194.2,82.6 L193.3,83.2 L192.1,82.8 L190.6,81.9 L189.7,80.3 L187.7,79.5 L186.4,78.7 L185.5,78.7 L183.7,77.9 L181.9,76.6 L181.7,75.1 L180.2,73.5 L178.6,71.4 L177.7,70.9 L178.0,71.4 L178.8,72.2 L179.7,74.6 L179.5,75.1 L178.8,74.1 L178.0,72.5 L177.1,70.9 L176.6,70.1 L175.1,69.1 L174.2,67.5 L173.5,65.9 L173.5,62.8 L174.0,61.8 L173.1,61.0 L170.9,58.6 L169.5,57.3 L167.8,56.5 L166.4,55.8 L163.8,55.2 L161.6,56.0 L160.2,57.1 L158.5,57.6 L156.7,58.4 L155.3,58.6 L158.5,56.8 L156.7,56.5 L155.3,55.5 L155.3,54.5 L156.2,53.7 L154.0,52.9Z"/><path d="M196.1,46.4 L201.0,44.3 L210.8,43.5 L218.7,44.0 L220.5,45.3 L219.6,47.9 L218.7,50.5 L214.3,51.6 L210.8,53.1 L209.4,55.8 L207.2,55.2 L205.4,53.1 L204.6,51.6 L203.7,49.5 L199.2,47.4 L196.1,46.4Z"/><path d="M194.4,82.6 L195.2,81.3 L196.6,80.8 L198.4,81.6 L200.1,81.5 L201.9,82.6 L203.2,83.9 L205.4,84.5 L206.3,86.3 L206.3,87.1 L209.0,88.4 L211.7,89.2 L213.0,90.0 L213.0,91.8 L211.2,94.9 L211.0,96.5 L210.3,98.6 L209.0,99.1 L207.2,100.7 L207.0,102.0 L205.0,104.8 L202.8,105.1 L203.2,106.9 L201.0,107.4 L199.7,108.5 L200.1,109.5 L198.8,111.1 L199.2,112.1 L197.9,113.7 L198.1,114.5 L198.8,115.8 L196.6,115.3 L195.2,113.2 L195.7,110.0 L195.9,106.4 L196.8,102.7 L197.2,96.5 L195.2,95.2 L193.5,91.3 L192.8,90.2 L192.6,89.2 L193.0,87.6 L193.0,86.6 L194.1,85.0 L194.1,83.2Z"/><path d="M224.3,64.6 L224.5,66.7 L224.5,67.8 L225.8,68.2 L227.6,67.9 L228.5,66.7 L229.8,65.2 L230.1,64.5 L231.6,64.4 L232.5,64.0 L233.2,64.6 L234.0,65.4 L235.4,67.0 L235.6,67.2 L236.0,66.7 L236.7,66.1 L235.6,65.4 L234.0,63.9 L234.5,63.3 L235.1,63.6 L236.9,65.2 L237.4,66.5 L238.5,68.0 L239.1,67.2 L238.7,65.9 L240.0,65.8 L241.4,65.7 L240.5,66.2 L240.2,67.0 L240.7,67.8 L241.8,68.1 L244.5,67.9 L244.5,69.1 L244.0,70.1 L243.7,70.7 L243.8,71.7 L244.0,72.5 L244.9,74.0 L245.8,75.9 L247.3,79.2 L247.8,80.5 L248.4,80.3 L251.6,79.0 L252.9,77.9 L254.1,77.2 L255.0,75.3 L253.5,74.3 L253.3,73.2 L251.6,74.6 L251.3,73.8 L250.7,73.2 L249.8,71.7 L250.9,71.4 L252.4,73.1 L253.8,73.0 L256.0,73.9 L258.2,74.1 L258.9,74.8 L259.5,76.1 L260.8,76.9 L261.1,79.0 L261.8,80.8 L262.6,82.9 L264.0,81.9 L264.1,80.0 L264.0,79.0 L265.3,77.9 L267.1,76.1 L268.0,75.6 L269.3,75.3 L269.5,76.4 L270.4,78.2 L271.7,78.5 L272.2,80.3 L272.2,81.9 L273.1,83.2 L274.2,84.7 L274.4,86.3 L273.3,85.8 L272.2,82.9 L272.8,80.4 L273.7,80.7 L275.0,82.5 L275.7,81.6 L276.8,81.1 L276.8,79.2 L275.7,77.7 L275.5,76.6 L276.4,75.9 L277.7,75.9 L279.0,75.4 L280.4,75.0 L281.7,73.2 L282.4,71.4 L282.1,70.4 L281.5,68.8 L282.8,67.8 L280.8,67.2 L280.8,66.7 L282.1,65.9 L282.6,66.7 L283.9,66.5 L284.6,67.8 L284.6,69.1 L285.7,68.8 L285.9,67.5 L285.2,66.5 L286.1,64.9 L288.4,64.4 L290.6,62.0 L291.0,59.9 L289.2,58.9 L291.0,56.3 L294.6,56.0 L297.2,56.2 L297.7,57.3 L297.9,60.5 L299.9,57.8 L300.8,55.8 L301.6,55.5 L303.9,55.8 L307.0,54.5 L308.3,53.1 L308.3,51.1 L303.9,50.5 L299.9,50.8 L295.0,49.8 L290.6,49.2 L286.1,50.0 L283.9,48.7 L278.6,48.7 L275.0,46.6 L271.9,47.4 L267.5,47.7 L264.0,48.7 L260.9,49.5 L258.6,51.3 L255.1,50.7 L252.0,51.5 L248.0,51.3 L246.7,52.1 L243.6,50.9 L239.6,50.0 L235.6,51.1 L233.8,52.6 L230.7,54.7 L230.7,56.5 L232.0,56.8 L233.2,56.0 L233.8,56.8 L233.4,57.8 L232.5,57.3 L232.0,58.4 L232.3,59.2 L230.7,59.4 L230.1,60.3 L229.2,60.7 L227.8,61.2 L226.5,61.8 L227.8,63.1 L227.8,64.4 L224.3,64.6Z"/><path d="M221.0,79.4 L221.0,76.1 L222.7,72.7 L224.2,71.4 L225.8,68.4 L227.6,68.8 L229.8,67.9 L232.9,67.6 L233.4,68.8 L232.9,69.4 L235.1,70.2 L237.1,71.3 L237.8,70.0 L239.6,70.5 L241.4,71.0 L242.8,70.8 L243.7,70.8 L243.8,71.7 L243.1,72.2 L242.9,71.5 L244.2,74.6 L245.1,77.4 L246.0,79.0 L247.7,80.6 L248.0,81.1 L251.2,80.9 L251.1,81.6 L249.8,84.5 L247.8,87.3 L246.2,88.6 L245.9,90.5 L246.5,92.6 L246.5,94.9 L244.0,97.5 L244.2,99.6 L243.0,100.5 L242.9,102.0 L241.8,103.5 L240.0,104.8 L237.4,105.2 L236.6,104.8 L236.0,102.2 L235.1,101.2 L234.9,99.1 L233.7,96.2 L234.5,93.3 L233.9,90.2 L232.5,87.6 L232.8,85.3 L232.3,84.7 L230.9,84.7 L229.2,83.8 L226.7,84.4 L225.2,84.8 L223.6,83.5 L222.5,82.1 L221.8,81.3 L221.1,80.6 L221.0,79.4Z"/><path d="M148.7,53.1 L152.2,53.4 L153.1,52.6 L148.7,51.1Z"/><path d="M176.2,51.1 L183.7,51.3 L183.7,49.0 L180.6,48.7 L177.5,49.0 L175.7,49.8Z"/><path d="M188.6,47.1 L193.9,47.4 L201.0,44.3 L195.2,43.8 L187.7,44.8Z"/><path d="M188.6,50.0 L193.0,49.5 L196.1,49.8 L201.0,52.4 L199.7,54.7 L194.8,53.4 L190.8,50.5Z"/><path d="M173.1,49.8 L175.3,48.2 L177.1,48.7 L176.2,50.0Z"/><path d="M186.4,48.5 L193.0,48.5 L193.0,47.1 L186.4,47.4Z"/><path d="M178.8,47.9 L184.2,47.9 L184.2,46.6 L177.5,46.9Z"/><path d="M185.1,49.5 L187.3,49.5 L187.3,48.5 L185.1,48.7Z"/><path d="M190.4,53.7 L193.0,53.9 L192.1,52.9Z"/><path d="M185.5,47.1 L189.5,46.9 L190.8,46.1 L186.4,45.1 L184.2,45.8Z"/><path d="M173.1,47.4 L178.0,47.7 L180.6,47.1 L176.2,46.6Z"/><path d="M181.9,49.0 L185.5,49.5 L186.4,50.5 L182.8,50.3Z"/><path d="M189.5,49.0 L192.1,49.2 L193.0,48.7 L188.6,48.5Z"/><path d="M193.9,47.1 L199.7,47.4 L196.6,46.4Z"/><path d="M248.0,100.1 L249.3,100.1 L250.9,95.2 L250.4,93.3 L249.8,94.1 L248.0,96.0 L247.7,98.6Z"/><path d="M279.0,98.6 L279.0,100.7 L279.5,104.6 L280.8,105.3 L283.3,104.7 L285.7,103.6 L288.4,105.2 L289.7,105.6 L290.6,106.9 L293.2,107.4 L295.0,106.7 L296.3,103.8 L296.6,101.7 L296.3,100.1 L294.6,98.0 L293.2,96.7 L292.9,94.9 L291.7,92.7 L291.2,93.9 L291.2,96.0 L290.3,96.2 L288.8,94.9 L289.2,93.3 L287.0,93.0 L285.9,94.9 L284.6,94.3 L282.6,96.2 L282.1,97.3 L280.4,97.8Z"/><path d="M292.8,108.4 L294.2,108.5 L293.9,109.8 L293.2,109.8Z"/><path d="M305.2,105.1 L307.6,106.8 L306.7,108.7 L305.9,108.6 L306.1,107.2Z"/><path d="M305.1,108.2 L305.8,108.8 L304.1,111.2 L302.3,111.1 L303.1,110.0Z"/><path d="M270.7,84.2 L271.9,85.0 L274.6,87.6 L275.5,90.2 L274.4,89.7 L273.1,87.6 L270.8,85.5Z"/><path d="M276.8,86.3 L277.3,88.6 L279.0,89.2 L280.1,88.1 L280.8,86.6 L281.3,84.5 L280.4,83.4 L278.6,85.5 L277.3,86.3Z"/><path d="M275.3,90.6 L279.3,91.1 L279.3,91.6 L275.7,91.0Z"/><path d="M281.3,90.0 L281.9,86.6 L283.9,86.3 L282.1,86.8 L283.0,89.2 L282.1,88.6Z"/><path d="M286.6,87.9 L288.4,88.9 L291.0,88.4 L293.9,90.2 L295.2,92.6 L293.2,91.8 L292.1,91.8 L291.0,91.9 L289.7,91.4 L289.5,89.7 L287.5,89.2 L286.8,88.6Z"/><path d="M281.7,77.4 L282.6,77.4 L283.5,80.3 L284.4,83.4 L284.1,83.9 L282.6,83.4 L282.1,79.2Z"/><path d="M286.4,70.6 L287.0,69.3 L288.4,68.4 L290.6,68.3 L291.2,66.7 L291.2,65.4 L290.6,65.7 L290.6,67.0 L289.2,67.8 L288.6,69.3 L286.6,69.3Z"/><path d="M290.6,65.2 L293.0,64.5 L291.4,63.4Z"/><path d="M291.5,63.1 L292.1,61.5 L291.7,58.9 L291.5,60.5Z"/><path d="M281.9,74.0 L282.6,74.0 L282.1,75.6Z"/><path d="M264.0,83.9 L264.8,83.2 L264.0,82.0Z"/><path d="M226.1,61.0 L229.2,60.5 L229.2,59.4 L228.3,58.6 L227.6,57.8 L227.7,57.0 L226.7,56.5 L226.3,56.5 L225.7,57.6 L226.3,58.4 L227.2,58.9 L226.3,59.7 L226.5,60.1Z"/><path d="M224.1,60.2 L225.8,59.9 L225.8,58.9 L225.0,58.3 L224.1,58.9Z"/><path d="M217.9,52.9 L218.7,52.4 L221.4,52.4 L222.3,53.1 L220.5,53.9 L218.7,53.8Z"/><path d="M232.9,45.8 L238.3,45.1 L240.5,45.3 L236.5,46.9Z"/><path d="M251.6,50.0 L253.3,47.7 L258.6,46.9 L254.2,48.5 L252.9,50.3Z"/><path d="M269.3,45.8 L272.8,44.8 L275.0,46.1Z"/><path d="M289.2,49.8 L295.0,47.7 L291.5,49.0Z"/><path d="M193.0,75.1 L195.7,76.6 L194.4,76.6 L190.8,75.6Z"/><path d="M195.7,76.9 L197.9,76.8 L198.1,77.5 L195.7,77.7Z"/><path d="M159.3,77.2 L159.8,76.6 L159.3,76.4Z"/><path d="M149.6,60.2 L153.1,59.7 L150.9,59.9Z"/><path d="M283.9,91.5 L284.8,91.4 L283.5,92.3Z"/><path d="M280.8,91.5 L282.6,91.5 L281.7,92.0Z"/><path d="M284.4,86.6 L285.5,86.3 L285.2,87.6Z"/><path d="M295.0,89.7 L295.9,89.2 L295.4,90.2Z"/><path d="M299.4,91.8 L300.3,92.3 L299.9,92.6Z"/><path d="M302.1,98.0 L302.8,98.6 L301.6,98.3Z"/><path d="M307.4,96.0 L307.9,96.2 L307.2,96.5Z"/><path d="M200.6,63.3 L201.9,62.8 L200.1,62.5Z"/><path d="M204.1,62.5 L205.0,61.2 L203.2,60.2 L202.3,62.0Z"/><path d="M187.7,62.7 L189.5,61.6 L191.0,62.5 L189.5,62.8Z"/><path d="M189.7,65.3 L190.6,63.3 L191.3,63.1 L192.8,63.6 L191.9,64.6 L191.7,65.2 L193.5,64.7 L194.6,64.3 L193.9,64.1 L192.6,64.6 L190.2,63.1Z"/><path d="M173.1,53.1 L176.2,52.1 L176.6,52.9 L174.4,53.4Z"/><path d="M177.1,55.2 L180.2,54.5 L178.8,55.2Z"/><path d="M240.9,65.7 L240.9,64.1 L241.8,63.3 L243.1,63.1 L244.5,63.4 L245.8,62.5 L246.9,65.2 L244.5,65.4 L242.2,65.7Z"/><path d="M249.3,63.9 L250.2,62.8 L251.3,62.5 L252.0,63.6 L251.1,64.9 L252.0,66.2 L252.4,67.8 L250.9,67.8 L250.2,67.0 L250.4,65.9 L249.6,64.9Z"/><path d="M232.9,58.6 L234.7,58.4 L236.5,58.5 L237.8,57.3 L239.1,57.1 L238.7,56.0 L241.8,55.8 L239.6,55.2 L238.0,55.2 L239.6,52.9 L238.0,52.9 L236.3,54.5 L236.9,55.8 L235.8,57.3 L234.3,58.0Z"/></g>
<rect x="148.7" y="40.1" width="159.6" height="78.3" fill="none" stroke="#555" stroke-width="0.7"/>
<clipPath id="land2"><path d="M340.5,52.6 L342.3,51.3 L343.2,50.5 L345.8,49.9 L349.4,50.4 L352.5,50.7 L355.1,50.9 L358.3,50.5 L361.8,51.1 L364.0,51.3 L367.1,51.6 L370.7,51.8 L372.9,51.6 L374.2,50.8 L376.0,51.3 L377.8,52.1 L378.6,52.6 L376.9,53.9 L375.1,54.5 L373.3,56.0 L373.8,57.1 L376.0,57.6 L378.6,58.4 L380.0,59.9 L380.9,58.1 L380.9,55.8 L380.4,54.5 L383.1,55.0 L384.9,56.3 L386.2,55.8 L388.0,57.8 L389.7,59.4 L390.2,60.2 L388.4,60.9 L385.7,61.5 L386.2,61.8 L388.0,63.1 L385.7,63.9 L384.0,64.4 L384.0,65.4 L382.2,65.9 L381.3,67.8 L381.3,68.8 L379.1,70.6 L379.5,73.0 L379.3,74.0 L378.6,73.2 L378.2,71.7 L376.0,71.2 L375.1,71.9 L373.3,71.7 L372.0,72.7 L371.8,75.6 L372.4,77.2 L373.3,77.4 L374.7,77.2 L374.9,76.1 L376.4,75.9 L376.0,78.7 L377.8,79.0 L378.0,81.3 L379.1,82.4 L380.4,82.1 L380.7,82.6 L379.8,83.2 L378.6,82.8 L377.1,81.9 L376.2,80.3 L374.2,79.5 L372.9,78.7 L372.0,78.7 L370.2,77.9 L368.4,76.6 L368.2,75.1 L366.7,73.5 L365.1,71.4 L364.2,70.9 L364.5,71.4 L365.3,72.2 L366.2,74.6 L366.0,75.1 L365.3,74.1 L364.5,72.5 L363.6,70.9 L363.1,70.1 L361.6,69.1 L360.7,67.5 L360.0,65.9 L360.0,62.8 L360.5,61.8 L359.6,61.0 L357.4,58.6 L356.0,57.3 L354.3,56.5 L352.9,55.8 L350.3,55.2 L348.1,56.0 L346.7,57.1 L345.0,57.6 L343.2,58.4 L341.8,58.6 L345.0,56.8 L343.2,56.5 L341.8,55.5 L341.8,54.5 L342.7,53.7 L340.5,52.9Z"/><path d="M382.6,46.4 L387.5,44.3 L397.3,43.5 L405.2,44.0 L407.0,45.3 L406.1,47.9 L405.2,50.5 L400.8,51.6 L397.3,53.1 L395.9,55.8 L393.7,55.2 L391.9,53.1 L391.1,51.6 L390.2,49.5 L385.7,47.4 L382.6,46.4Z"/><path d="M380.9,82.6 L381.8,81.3 L383.1,80.8 L384.9,81.6 L386.6,81.5 L388.4,82.6 L389.7,83.9 L391.9,84.5 L392.8,86.3 L392.8,87.1 L395.5,88.4 L398.2,89.2 L399.5,90.0 L399.5,91.8 L397.7,94.9 L397.5,96.5 L396.8,98.6 L395.5,99.1 L393.7,100.7 L393.5,102.0 L391.5,104.8 L389.3,105.1 L389.7,106.9 L387.5,107.4 L386.2,108.5 L386.6,109.5 L385.3,111.1 L385.7,112.1 L384.4,113.7 L384.6,114.5 L385.3,115.8 L383.1,115.3 L381.8,113.2 L382.2,110.0 L382.4,106.4 L383.3,102.7 L383.7,96.5 L381.8,95.2 L380.0,91.3 L379.3,90.2 L379.1,89.2 L379.5,87.6 L379.5,86.6 L380.6,85.0 L380.6,83.2Z"/><path d="M410.8,64.6 L411.0,66.7 L411.0,67.8 L412.3,68.2 L414.1,67.9 L415.0,66.7 L416.3,65.2 L416.6,64.5 L418.1,64.4 L419.0,64.0 L419.7,64.6 L420.5,65.4 L421.9,67.0 L422.1,67.2 L422.5,66.7 L423.2,66.1 L422.1,65.4 L420.5,63.9 L421.0,63.3 L421.6,63.6 L423.4,65.2 L423.9,66.5 L425.0,68.0 L425.6,67.2 L425.2,65.9 L426.5,65.8 L427.9,65.7 L427.0,66.2 L426.7,67.0 L427.2,67.8 L428.3,68.1 L431.0,67.9 L431.0,69.1 L430.5,70.1 L430.2,70.7 L430.3,71.7 L430.5,72.5 L431.4,74.0 L432.3,75.9 L433.8,79.2 L434.3,80.5 L434.9,80.3 L438.1,79.0 L439.4,77.9 L440.6,77.2 L441.5,75.3 L440.0,74.3 L439.8,73.2 L438.1,74.6 L437.8,73.8 L437.2,73.2 L436.3,71.7 L437.4,71.4 L438.9,73.1 L440.3,73.0 L442.5,73.9 L444.7,74.1 L445.4,74.8 L446.0,76.1 L447.3,76.9 L447.6,79.0 L448.2,80.8 L449.1,82.9 L450.5,81.9 L450.6,80.0 L450.5,79.0 L451.8,77.9 L453.6,76.1 L454.5,75.6 L455.8,75.3 L456.0,76.4 L456.9,78.2 L458.2,78.5 L458.7,80.3 L458.7,81.9 L459.6,83.2 L460.7,84.7 L460.9,86.3 L459.8,85.8 L458.7,82.9 L459.3,80.4 L460.2,80.7 L461.5,82.5 L462.2,81.6 L463.3,81.1 L463.3,79.2 L462.2,77.7 L462.0,76.6 L462.9,75.9 L464.2,75.9 L465.5,75.4 L466.9,75.0 L468.2,73.2 L468.9,71.4 L468.6,70.4 L468.0,68.8 L469.3,67.8 L467.3,67.2 L467.3,66.7 L468.6,65.9 L469.1,66.7 L470.4,66.5 L471.1,67.8 L471.1,69.1 L472.2,68.8 L472.4,67.5 L471.7,66.5 L472.6,64.9 L474.9,64.4 L477.1,62.0 L477.5,59.9 L475.7,58.9 L477.5,56.3 L481.1,56.0 L483.7,56.2 L484.2,57.3 L484.4,60.5 L486.4,57.8 L487.3,55.8 L488.1,55.5 L490.4,55.8 L493.5,54.5 L494.8,53.1 L494.8,51.1 L490.4,50.5 L486.4,50.8 L481.5,49.8 L477.1,49.2 L472.6,50.0 L470.4,48.7 L465.1,48.7 L461.5,46.6 L458.4,47.4 L454.0,47.7 L450.5,48.7 L447.4,49.5 L445.1,51.3 L441.6,50.7 L438.5,51.5 L434.5,51.3 L433.2,52.1 L430.1,50.9 L426.1,50.0 L422.1,51.1 L420.3,52.6 L417.2,54.7 L417.2,56.5 L418.5,56.8 L419.7,56.0 L420.3,56.8 L419.9,57.8 L419.0,57.3 L418.5,58.4 L418.8,59.2 L417.2,59.4 L416.6,60.3 L415.7,60.7 L414.3,61.2 L413.0,61.8 L414.3,63.1 L414.3,64.4 L410.8,64.6Z"/><path d="M407.5,79.4 L407.5,76.1 L409.2,72.7 L410.7,71.4 L412.3,68.4 L414.1,68.8 L416.3,67.9 L419.4,67.6 L419.9,68.8 L419.4,69.4 L421.6,70.2 L423.6,71.3 L424.3,70.0 L426.1,70.5 L427.9,71.0 L429.3,70.8 L430.2,70.8 L430.3,71.7 L429.6,72.2 L429.4,71.5 L430.7,74.6 L431.6,77.4 L432.5,79.0 L434.2,80.6 L434.5,81.1 L437.7,80.9 L437.6,81.6 L436.3,84.5 L434.3,87.3 L432.7,88.6 L432.4,90.5 L433.0,92.6 L433.0,94.9 L430.5,97.5 L430.7,99.6 L429.5,100.5 L429.4,102.0 L428.3,103.5 L426.5,104.8 L423.9,105.2 L423.1,104.8 L422.5,102.2 L421.6,101.2 L421.4,99.1 L420.2,96.2 L421.0,93.3 L420.4,90.2 L419.0,87.6 L419.3,85.3 L418.8,84.7 L417.4,84.7 L415.7,83.8 L413.2,84.4 L411.7,84.8 L410.1,83.5 L409.0,82.1 L408.3,81.3 L407.6,80.6 L407.5,79.4Z"/><path d="M335.2,53.1 L338.7,53.4 L339.6,52.6 L335.2,51.1Z"/><path d="M362.7,51.1 L370.2,51.3 L370.2,49.0 L367.1,48.7 L364.0,49.0 L362.2,49.8Z"/><path d="M375.1,47.1 L380.4,47.4 L387.5,44.3 L381.8,43.8 L374.2,44.8Z"/><path d="M375.1,50.0 L379.5,49.5 L382.6,49.8 L387.5,52.4 L386.2,54.7 L381.3,53.4 L377.3,50.5Z"/><path d="M359.6,49.8 L361.8,48.2 L363.6,48.7 L362.7,50.0Z"/><path d="M372.9,48.5 L379.5,48.5 L379.5,47.1 L372.9,47.4Z"/><path d="M365.3,47.9 L370.7,47.9 L370.7,46.6 L364.0,46.9Z"/><path d="M371.6,49.5 L373.8,49.5 L373.8,48.5 L371.6,48.7Z"/><path d="M376.9,53.7 L379.5,53.9 L378.6,52.9Z"/><path d="M372.0,47.1 L376.0,46.9 L377.3,46.1 L372.9,45.1 L370.7,45.8Z"/><path d="M359.6,47.4 L364.5,47.7 L367.1,47.1 L362.7,46.6Z"/><path d="M368.4,49.0 L372.0,49.5 L372.9,50.5 L369.3,50.3Z"/><path d="M376.0,49.0 L378.6,49.2 L379.5,48.7 L375.1,48.5Z"/><path d="M380.4,47.1 L386.2,47.4 L383.1,46.4Z"/><path d="M434.5,100.1 L435.8,100.1 L437.4,95.2 L436.9,93.3 L436.3,94.1 L434.5,96.0 L434.2,98.6Z"/><path d="M465.5,98.6 L465.5,100.7 L466.0,104.6 L467.3,105.3 L469.8,104.7 L472.2,103.6 L474.9,105.2 L476.2,105.6 L477.1,106.9 L479.7,107.4 L481.5,106.7 L482.8,103.8 L483.1,101.7 L482.8,100.1 L481.1,98.0 L479.7,96.7 L479.4,94.9 L478.2,92.7 L477.7,93.9 L477.7,96.0 L476.8,96.2 L475.3,94.9 L475.7,93.3 L473.5,93.0 L472.4,94.9 L471.1,94.3 L469.1,96.2 L468.6,97.3 L466.9,97.8Z"/><path d="M479.3,108.4 L480.7,108.5 L480.4,109.8 L479.7,109.8Z"/><path d="M491.7,105.1 L494.1,106.8 L493.2,108.7 L492.4,108.6 L492.6,107.2Z"/><path d="M491.6,108.2 L492.3,108.8 L490.6,111.2 L488.8,111.1 L489.6,110.0Z"/><path d="M457.2,84.2 L458.4,85.0 L461.1,87.6 L462.0,90.2 L460.9,89.7 L459.6,87.6 L457.3,85.5Z"/><path d="M463.3,86.3 L463.8,88.6 L465.5,89.2 L466.6,88.1 L467.3,86.6 L467.8,84.5 L466.9,83.4 L465.1,85.5 L463.8,86.3Z"/><path d="M461.8,90.6 L465.8,91.1 L465.8,91.6 L462.2,91.0Z"/><path d="M467.8,90.0 L468.4,86.6 L470.4,86.3 L468.6,86.8 L469.5,89.2 L468.6,88.6Z"/><path d="M473.1,87.9 L474.9,88.9 L477.5,88.4 L480.4,90.2 L481.7,92.6 L479.7,91.8 L478.6,91.8 L477.5,91.9 L476.2,91.4 L476.0,89.7 L474.0,89.2 L473.3,88.6Z"/><path d="M468.2,77.4 L469.1,77.4 L470.0,80.3 L470.9,83.4 L470.6,83.9 L469.1,83.4 L468.6,79.2Z"/><path d="M472.9,70.6 L473.5,69.3 L474.9,68.4 L477.1,68.3 L477.7,66.7 L477.7,65.4 L477.1,65.7 L477.1,67.0 L475.7,67.8 L475.1,69.3 L473.1,69.3Z"/><path d="M477.1,65.2 L479.5,64.5 L477.9,63.4Z"/><path d="M478.0,63.1 L478.6,61.5 L478.2,58.9 L478.0,60.5Z"/><path d="M468.4,74.0 L469.1,74.0 L468.6,75.6Z"/><path d="M450.5,83.9 L451.3,83.2 L450.5,82.0Z"/><path d="M412.6,61.0 L415.7,60.5 L415.7,59.4 L414.8,58.6 L414.1,57.8 L414.2,57.0 L413.2,56.5 L412.8,56.5 L412.2,57.6 L412.8,58.4 L413.7,58.9 L412.8,59.7 L413.0,60.1Z"/><path d="M410.6,60.2 L412.3,59.9 L412.3,58.9 L411.5,58.3 L410.6,58.9Z"/><path d="M404.4,52.9 L405.2,52.4 L407.9,52.4 L408.8,53.1 L407.0,53.9 L405.2,53.8Z"/><path d="M419.4,45.8 L424.8,45.1 L427.0,45.3 L423.0,46.9Z"/><path d="M438.1,50.0 L439.8,47.7 L445.1,46.9 L440.7,48.5 L439.4,50.3Z"/><path d="M455.8,45.8 L459.3,44.8 L461.5,46.1Z"/><path d="M475.7,49.8 L481.5,47.7 L478.0,49.0Z"/><path d="M379.5,75.1 L382.2,76.6 L380.9,76.6 L377.3,75.6Z"/><path d="M382.2,76.9 L384.4,76.8 L384.6,77.5 L382.2,77.7Z"/><path d="M345.8,77.2 L346.3,76.6 L345.8,76.4Z"/><path d="M336.1,60.2 L339.6,59.7 L337.4,59.9Z"/><path d="M470.4,91.5 L471.3,91.4 L470.0,92.3Z"/><path d="M467.3,91.5 L469.1,91.5 L468.2,92.0Z"/><path d="M470.9,86.6 L472.0,86.3 L471.7,87.6Z"/><path d="M481.5,89.7 L482.4,89.2 L481.9,90.2Z"/><path d="M485.9,91.8 L486.8,92.3 L486.4,92.6Z"/><path d="M488.6,98.0 L489.3,98.6 L488.1,98.3Z"/><path d="M493.9,96.0 L494.4,96.2 L493.7,96.5Z"/><path d="M387.1,63.3 L388.4,62.8 L386.6,62.5Z"/><path d="M390.6,62.5 L391.5,61.2 L389.7,60.2 L388.8,62.0Z"/></clipPath>
<g clip-path="url(#land2)"><g filter="url(#cmap)"><rect x="335.2" y="40.1" width="159.6" height="78.3" fill="#2a2a2a"/><ellipse cx="366.2" cy="54.7" rx="26.6" ry="7.3" fill="#262626"/><ellipse cx="372.9" cy="48.5" rx="15.5" ry="3.7" fill="#151515"/><ellipse cx="347.6" cy="53.7" rx="5.3" ry="3.1" fill="#2f2f2f"/><ellipse cx="384.0" cy="58.9" rx="4.4" ry="3.1" fill="#222222"/><ellipse cx="370.7" cy="60.5" rx="11.1" ry="2.1" fill="#3b3b3b"/><ellipse cx="371.6" cy="63.6" rx="8.9" ry="2.1" fill="#555555"/><ellipse cx="372.9" cy="67.2" rx="6.2" ry="2.6" fill="#555555"/><ellipse cx="379.5" cy="67.2" rx="2.7" ry="3.1" fill="#5e5e5e"/><ellipse cx="364.9" cy="67.8" rx="3.1" ry="3.1" fill="#6e6e6e"/><ellipse cx="367.1" cy="71.4" rx="2.7" ry="2.1" fill="#9d9d9d"/><ellipse cx="369.8" cy="75.6" rx="3.1" ry="3.1" fill="#aeaeae"/><ellipse cx="376.0" cy="79.8" rx="2.7" ry="2.1" fill="#aeaeae"/><ellipse cx="396.4" cy="49.5" rx="8.9" ry="6.3" fill="#3b3b3b"/><ellipse cx="397.3" cy="51.6" rx="3.5" ry="4.2" fill="#555555"/><ellipse cx="384.9" cy="86.6" rx="6.2" ry="4.7" fill="#b3b3b3"/><ellipse cx="389.3" cy="91.3" rx="5.3" ry="4.2" fill="#aeaeae"/><ellipse cx="384.0" cy="94.9" rx="2.7" ry="4.2" fill="#aeaeae"/><ellipse cx="397.3" cy="91.8" rx="2.2" ry="3.7" fill="#4c4c4c"/><ellipse cx="390.6" cy="97.5" rx="2.7" ry="2.6" fill="#737373"/><ellipse cx="392.8" cy="101.7" rx="2.7" ry="2.6" fill="#2f2f2f"/><ellipse cx="387.5" cy="105.3" rx="2.7" ry="2.6" fill="#595959"/><ellipse cx="383.5" cy="102.7" rx="1.3" ry="6.3" fill="#aaaaaa"/><ellipse cx="384.0" cy="111.6" rx="1.8" ry="3.1" fill="#b7b7b7"/><ellipse cx="426.1" cy="53.1" rx="8.0" ry="3.7" fill="#1e1e1e"/><ellipse cx="419.4" cy="61.5" rx="6.2" ry="2.1" fill="#5e5e5e"/><ellipse cx="430.5" cy="59.4" rx="6.6" ry="2.6" fill="#333333"/><ellipse cx="413.2" cy="66.2" rx="3.5" ry="2.6" fill="#cccccc"/><ellipse cx="423.9" cy="66.7" rx="7.1" ry="2.6" fill="#cccccc"/><ellipse cx="433.6" cy="67.8" rx="4.4" ry="2.1" fill="#aeaeae"/><ellipse cx="439.4" cy="69.9" rx="4.4" ry="2.1" fill="#999999"/><ellipse cx="417.2" cy="71.4" rx="11.1" ry="3.1" fill="#b3b3b3"/><ellipse cx="426.1" cy="71.9" rx="4.4" ry="2.6" fill="#a2a2a2"/><ellipse cx="412.8" cy="75.6" rx="4.4" ry="2.6" fill="#888888"/><ellipse cx="417.2" cy="78.7" rx="9.8" ry="3.7" fill="#151515"/><ellipse cx="423.9" cy="85.0" rx="6.6" ry="4.2" fill="#1a1a1a"/><ellipse cx="421.6" cy="91.8" rx="3.5" ry="2.6" fill="#2a2a2a"/><ellipse cx="431.8" cy="86.0" rx="2.7" ry="4.2" fill="#2f2f2f"/><ellipse cx="426.1" cy="101.2" rx="4.4" ry="4.2" fill="#aeaeae"/><ellipse cx="434.9" cy="75.1" rx="4.0" ry="3.7" fill="#333333"/><ellipse cx="437.2" cy="78.7" rx="2.2" ry="1.6" fill="#666666"/><ellipse cx="435.8" cy="97.0" rx="1.3" ry="2.6" fill="#555555"/><ellipse cx="446.0" cy="53.7" rx="12.4" ry="3.7" fill="#1a1a1a"/><ellipse cx="463.8" cy="52.6" rx="14.2" ry="3.7" fill="#151515"/><ellipse cx="448.2" cy="61.5" rx="8.9" ry="2.1" fill="#444444"/><ellipse cx="463.8" cy="61.0" rx="6.6" ry="2.1" fill="#404040"/><ellipse cx="442.5" cy="68.3" rx="6.2" ry="2.1" fill="#959595"/><ellipse cx="459.3" cy="71.4" rx="6.2" ry="3.7" fill="#666666"/><ellipse cx="461.5" cy="72.5" rx="2.7" ry="2.1" fill="#aeaeae"/><ellipse cx="449.6" cy="76.1" rx="4.0" ry="4.2" fill="#0d0d0d"/><ellipse cx="466.0" cy="70.4" rx="4.4" ry="4.2" fill="#2f2f2f"/><ellipse cx="460.7" cy="79.2" rx="3.5" ry="3.1" fill="#595959"/><ellipse cx="481.5" cy="54.7" rx="6.6" ry="4.2" fill="#3b3b3b"/><ellipse cx="466.0" cy="87.6" rx="6.6" ry="3.1" fill="#595959"/><ellipse cx="474.0" cy="96.0" rx="6.2" ry="2.1" fill="#666666"/><ellipse cx="474.9" cy="99.6" rx="6.2" ry="1.6" fill="#7b7b7b"/><ellipse cx="474.9" cy="103.3" rx="7.1" ry="2.6" fill="#bbbbbb"/><ellipse cx="491.3" cy="109.0" rx="2.7" ry="3.1" fill="#5e5e5e"/></g></g>
<g fill="#fff"><path d="M374.2,62.7 L376.0,61.6 L377.5,62.5 L376.0,62.8Z"/><path d="M376.2,65.3 L377.1,63.3 L377.8,63.1 L379.3,63.6 L378.4,64.6 L378.2,65.2 L380.0,64.7 L381.1,64.3 L380.4,64.1 L379.1,64.6 L376.7,63.1Z"/><path d="M359.6,53.1 L362.7,52.1 L363.1,52.9 L360.9,53.4Z"/><path d="M363.6,55.2 L366.7,54.5 L365.3,55.2Z"/><path d="M427.4,65.7 L427.4,64.1 L428.3,63.3 L429.6,63.1 L431.0,63.4 L432.3,62.5 L433.4,65.2 L431.0,65.4 L428.7,65.7Z"/><path d="M435.8,63.9 L436.7,62.8 L437.8,62.5 L438.5,63.6 L437.6,64.9 L438.5,66.2 L438.9,67.8 L437.4,67.8 L436.7,67.0 L436.9,65.9 L436.1,64.9Z"/><path d="M419.4,58.6 L421.2,58.4 L423.0,58.5 L424.3,57.3 L425.6,57.1 L425.2,56.0 L428.3,55.8 L426.1,55.2 L424.5,55.2 L426.1,52.9 L424.5,52.9 L422.8,54.5 L423.4,55.8 L422.3,57.3 L420.8,58.0Z"/></g>
<g fill="none" stroke="#0a0a0a" stroke-width="0.75" stroke-linejoin="round"><path d="M340.5,52.6 L342.3,51.3 L343.2,50.5 L345.8,49.9 L349.4,50.4 L352.5,50.7 L355.1,50.9 L358.3,50.5 L361.8,51.1 L364.0,51.3 L367.1,51.6 L370.7,51.8 L372.9,51.6 L374.2,50.8 L376.0,51.3 L377.8,52.1 L378.6,52.6 L376.9,53.9 L375.1,54.5 L373.3,56.0 L373.8,57.1 L376.0,57.6 L378.6,58.4 L380.0,59.9 L380.9,58.1 L380.9,55.8 L380.4,54.5 L383.1,55.0 L384.9,56.3 L386.2,55.8 L388.0,57.8 L389.7,59.4 L390.2,60.2 L388.4,60.9 L385.7,61.5 L386.2,61.8 L388.0,63.1 L385.7,63.9 L384.0,64.4 L384.0,65.4 L382.2,65.9 L381.3,67.8 L381.3,68.8 L379.1,70.6 L379.5,73.0 L379.3,74.0 L378.6,73.2 L378.2,71.7 L376.0,71.2 L375.1,71.9 L373.3,71.7 L372.0,72.7 L371.8,75.6 L372.4,77.2 L373.3,77.4 L374.7,77.2 L374.9,76.1 L376.4,75.9 L376.0,78.7 L377.8,79.0 L378.0,81.3 L379.1,82.4 L380.4,82.1 L380.7,82.6 L379.8,83.2 L378.6,82.8 L377.1,81.9 L376.2,80.3 L374.2,79.5 L372.9,78.7 L372.0,78.7 L370.2,77.9 L368.4,76.6 L368.2,75.1 L366.7,73.5 L365.1,71.4 L364.2,70.9 L364.5,71.4 L365.3,72.2 L366.2,74.6 L366.0,75.1 L365.3,74.1 L364.5,72.5 L363.6,70.9 L363.1,70.1 L361.6,69.1 L360.7,67.5 L360.0,65.9 L360.0,62.8 L360.5,61.8 L359.6,61.0 L357.4,58.6 L356.0,57.3 L354.3,56.5 L352.9,55.8 L350.3,55.2 L348.1,56.0 L346.7,57.1 L345.0,57.6 L343.2,58.4 L341.8,58.6 L345.0,56.8 L343.2,56.5 L341.8,55.5 L341.8,54.5 L342.7,53.7 L340.5,52.9Z"/><path d="M382.6,46.4 L387.5,44.3 L397.3,43.5 L405.2,44.0 L407.0,45.3 L406.1,47.9 L405.2,50.5 L400.8,51.6 L397.3,53.1 L395.9,55.8 L393.7,55.2 L391.9,53.1 L391.1,51.6 L390.2,49.5 L385.7,47.4 L382.6,46.4Z"/><path d="M380.9,82.6 L381.8,81.3 L383.1,80.8 L384.9,81.6 L386.6,81.5 L388.4,82.6 L389.7,83.9 L391.9,84.5 L392.8,86.3 L392.8,87.1 L395.5,88.4 L398.2,89.2 L399.5,90.0 L399.5,91.8 L397.7,94.9 L397.5,96.5 L396.8,98.6 L395.5,99.1 L393.7,100.7 L393.5,102.0 L391.5,104.8 L389.3,105.1 L389.7,106.9 L387.5,107.4 L386.2,108.5 L386.6,109.5 L385.3,111.1 L385.7,112.1 L384.4,113.7 L384.6,114.5 L385.3,115.8 L383.1,115.3 L381.8,113.2 L382.2,110.0 L382.4,106.4 L383.3,102.7 L383.7,96.5 L381.8,95.2 L380.0,91.3 L379.3,90.2 L379.1,89.2 L379.5,87.6 L379.5,86.6 L380.6,85.0 L380.6,83.2Z"/><path d="M410.8,64.6 L411.0,66.7 L411.0,67.8 L412.3,68.2 L414.1,67.9 L415.0,66.7 L416.3,65.2 L416.6,64.5 L418.1,64.4 L419.0,64.0 L419.7,64.6 L420.5,65.4 L421.9,67.0 L422.1,67.2 L422.5,66.7 L423.2,66.1 L422.1,65.4 L420.5,63.9 L421.0,63.3 L421.6,63.6 L423.4,65.2 L423.9,66.5 L425.0,68.0 L425.6,67.2 L425.2,65.9 L426.5,65.8 L427.9,65.7 L427.0,66.2 L426.7,67.0 L427.2,67.8 L428.3,68.1 L431.0,67.9 L431.0,69.1 L430.5,70.1 L430.2,70.7 L430.3,71.7 L430.5,72.5 L431.4,74.0 L432.3,75.9 L433.8,79.2 L434.3,80.5 L434.9,80.3 L438.1,79.0 L439.4,77.9 L440.6,77.2 L441.5,75.3 L440.0,74.3 L439.8,73.2 L438.1,74.6 L437.8,73.8 L437.2,73.2 L436.3,71.7 L437.4,71.4 L438.9,73.1 L440.3,73.0 L442.5,73.9 L444.7,74.1 L445.4,74.8 L446.0,76.1 L447.3,76.9 L447.6,79.0 L448.2,80.8 L449.1,82.9 L450.5,81.9 L450.6,80.0 L450.5,79.0 L451.8,77.9 L453.6,76.1 L454.5,75.6 L455.8,75.3 L456.0,76.4 L456.9,78.2 L458.2,78.5 L458.7,80.3 L458.7,81.9 L459.6,83.2 L460.7,84.7 L460.9,86.3 L459.8,85.8 L458.7,82.9 L459.3,80.4 L460.2,80.7 L461.5,82.5 L462.2,81.6 L463.3,81.1 L463.3,79.2 L462.2,77.7 L462.0,76.6 L462.9,75.9 L464.2,75.9 L465.5,75.4 L466.9,75.0 L468.2,73.2 L468.9,71.4 L468.6,70.4 L468.0,68.8 L469.3,67.8 L467.3,67.2 L467.3,66.7 L468.6,65.9 L469.1,66.7 L470.4,66.5 L471.1,67.8 L471.1,69.1 L472.2,68.8 L472.4,67.5 L471.7,66.5 L472.6,64.9 L474.9,64.4 L477.1,62.0 L477.5,59.9 L475.7,58.9 L477.5,56.3 L481.1,56.0 L483.7,56.2 L484.2,57.3 L484.4,60.5 L486.4,57.8 L487.3,55.8 L488.1,55.5 L490.4,55.8 L493.5,54.5 L494.8,53.1 L494.8,51.1 L490.4,50.5 L486.4,50.8 L481.5,49.8 L477.1,49.2 L472.6,50.0 L470.4,48.7 L465.1,48.7 L461.5,46.6 L458.4,47.4 L454.0,47.7 L450.5,48.7 L447.4,49.5 L445.1,51.3 L441.6,50.7 L438.5,51.5 L434.5,51.3 L433.2,52.1 L430.1,50.9 L426.1,50.0 L422.1,51.1 L420.3,52.6 L417.2,54.7 L417.2,56.5 L418.5,56.8 L419.7,56.0 L420.3,56.8 L419.9,57.8 L419.0,57.3 L418.5,58.4 L418.8,59.2 L417.2,59.4 L416.6,60.3 L415.7,60.7 L414.3,61.2 L413.0,61.8 L414.3,63.1 L414.3,64.4 L410.8,64.6Z"/><path d="M407.5,79.4 L407.5,76.1 L409.2,72.7 L410.7,71.4 L412.3,68.4 L414.1,68.8 L416.3,67.9 L419.4,67.6 L419.9,68.8 L419.4,69.4 L421.6,70.2 L423.6,71.3 L424.3,70.0 L426.1,70.5 L427.9,71.0 L429.3,70.8 L430.2,70.8 L430.3,71.7 L429.6,72.2 L429.4,71.5 L430.7,74.6 L431.6,77.4 L432.5,79.0 L434.2,80.6 L434.5,81.1 L437.7,80.9 L437.6,81.6 L436.3,84.5 L434.3,87.3 L432.7,88.6 L432.4,90.5 L433.0,92.6 L433.0,94.9 L430.5,97.5 L430.7,99.6 L429.5,100.5 L429.4,102.0 L428.3,103.5 L426.5,104.8 L423.9,105.2 L423.1,104.8 L422.5,102.2 L421.6,101.2 L421.4,99.1 L420.2,96.2 L421.0,93.3 L420.4,90.2 L419.0,87.6 L419.3,85.3 L418.8,84.7 L417.4,84.7 L415.7,83.8 L413.2,84.4 L411.7,84.8 L410.1,83.5 L409.0,82.1 L408.3,81.3 L407.6,80.6 L407.5,79.4Z"/><path d="M335.2,53.1 L338.7,53.4 L339.6,52.6 L335.2,51.1Z"/><path d="M362.7,51.1 L370.2,51.3 L370.2,49.0 L367.1,48.7 L364.0,49.0 L362.2,49.8Z"/><path d="M375.1,47.1 L380.4,47.4 L387.5,44.3 L381.8,43.8 L374.2,44.8Z"/><path d="M375.1,50.0 L379.5,49.5 L382.6,49.8 L387.5,52.4 L386.2,54.7 L381.3,53.4 L377.3,50.5Z"/><path d="M359.6,49.8 L361.8,48.2 L363.6,48.7 L362.7,50.0Z"/><path d="M372.9,48.5 L379.5,48.5 L379.5,47.1 L372.9,47.4Z"/><path d="M365.3,47.9 L370.7,47.9 L370.7,46.6 L364.0,46.9Z"/><path d="M371.6,49.5 L373.8,49.5 L373.8,48.5 L371.6,48.7Z"/><path d="M376.9,53.7 L379.5,53.9 L378.6,52.9Z"/><path d="M372.0,47.1 L376.0,46.9 L377.3,46.1 L372.9,45.1 L370.7,45.8Z"/><path d="M359.6,47.4 L364.5,47.7 L367.1,47.1 L362.7,46.6Z"/><path d="M368.4,49.0 L372.0,49.5 L372.9,50.5 L369.3,50.3Z"/><path d="M376.0,49.0 L378.6,49.2 L379.5,48.7 L375.1,48.5Z"/><path d="M380.4,47.1 L386.2,47.4 L383.1,46.4Z"/><path d="M434.5,100.1 L435.8,100.1 L437.4,95.2 L436.9,93.3 L436.3,94.1 L434.5,96.0 L434.2,98.6Z"/><path d="M465.5,98.6 L465.5,100.7 L466.0,104.6 L467.3,105.3 L469.8,104.7 L472.2,103.6 L474.9,105.2 L476.2,105.6 L477.1,106.9 L479.7,107.4 L481.5,106.7 L482.8,103.8 L483.1,101.7 L482.8,100.1 L481.1,98.0 L479.7,96.7 L479.4,94.9 L478.2,92.7 L477.7,93.9 L477.7,96.0 L476.8,96.2 L475.3,94.9 L475.7,93.3 L473.5,93.0 L472.4,94.9 L471.1,94.3 L469.1,96.2 L468.6,97.3 L466.9,97.8Z"/><path d="M479.3,108.4 L480.7,108.5 L480.4,109.8 L479.7,109.8Z"/><path d="M491.7,105.1 L494.1,106.8 L493.2,108.7 L492.4,108.6 L492.6,107.2Z"/><path d="M491.6,108.2 L492.3,108.8 L490.6,111.2 L488.8,111.1 L489.6,110.0Z"/><path d="M457.2,84.2 L458.4,85.0 L461.1,87.6 L462.0,90.2 L460.9,89.7 L459.6,87.6 L457.3,85.5Z"/><path d="M463.3,86.3 L463.8,88.6 L465.5,89.2 L466.6,88.1 L467.3,86.6 L467.8,84.5 L466.9,83.4 L465.1,85.5 L463.8,86.3Z"/><path d="M461.8,90.6 L465.8,91.1 L465.8,91.6 L462.2,91.0Z"/><path d="M467.8,90.0 L468.4,86.6 L470.4,86.3 L468.6,86.8 L469.5,89.2 L468.6,88.6Z"/><path d="M473.1,87.9 L474.9,88.9 L477.5,88.4 L480.4,90.2 L481.7,92.6 L479.7,91.8 L478.6,91.8 L477.5,91.9 L476.2,91.4 L476.0,89.7 L474.0,89.2 L473.3,88.6Z"/><path d="M468.2,77.4 L469.1,77.4 L470.0,80.3 L470.9,83.4 L470.6,83.9 L469.1,83.4 L468.6,79.2Z"/><path d="M472.9,70.6 L473.5,69.3 L474.9,68.4 L477.1,68.3 L477.7,66.7 L477.7,65.4 L477.1,65.7 L477.1,67.0 L475.7,67.8 L475.1,69.3 L473.1,69.3Z"/><path d="M477.1,65.2 L479.5,64.5 L477.9,63.4Z"/><path d="M478.0,63.1 L478.6,61.5 L478.2,58.9 L478.0,60.5Z"/><path d="M468.4,74.0 L469.1,74.0 L468.6,75.6Z"/><path d="M450.5,83.9 L451.3,83.2 L450.5,82.0Z"/><path d="M412.6,61.0 L415.7,60.5 L415.7,59.4 L414.8,58.6 L414.1,57.8 L414.2,57.0 L413.2,56.5 L412.8,56.5 L412.2,57.6 L412.8,58.4 L413.7,58.9 L412.8,59.7 L413.0,60.1Z"/><path d="M410.6,60.2 L412.3,59.9 L412.3,58.9 L411.5,58.3 L410.6,58.9Z"/><path d="M404.4,52.9 L405.2,52.4 L407.9,52.4 L408.8,53.1 L407.0,53.9 L405.2,53.8Z"/><path d="M419.4,45.8 L424.8,45.1 L427.0,45.3 L423.0,46.9Z"/><path d="M438.1,50.0 L439.8,47.7 L445.1,46.9 L440.7,48.5 L439.4,50.3Z"/><path d="M455.8,45.8 L459.3,44.8 L461.5,46.1Z"/><path d="M475.7,49.8 L481.5,47.7 L478.0,49.0Z"/><path d="M379.5,75.1 L382.2,76.6 L380.9,76.6 L377.3,75.6Z"/><path d="M382.2,76.9 L384.4,76.8 L384.6,77.5 L382.2,77.7Z"/><path d="M345.8,77.2 L346.3,76.6 L345.8,76.4Z"/><path d="M336.1,60.2 L339.6,59.7 L337.4,59.9Z"/><path d="M470.4,91.5 L471.3,91.4 L470.0,92.3Z"/><path d="M467.3,91.5 L469.1,91.5 L468.2,92.0Z"/><path d="M470.9,86.6 L472.0,86.3 L471.7,87.6Z"/><path d="M481.5,89.7 L482.4,89.2 L481.9,90.2Z"/><path d="M485.9,91.8 L486.8,92.3 L486.4,92.6Z"/><path d="M488.6,98.0 L489.3,98.6 L488.1,98.3Z"/><path d="M493.9,96.0 L494.4,96.2 L493.7,96.5Z"/><path d="M387.1,63.3 L388.4,62.8 L386.6,62.5Z"/><path d="M390.6,62.5 L391.5,61.2 L389.7,60.2 L388.8,62.0Z"/><path d="M374.2,62.7 L376.0,61.6 L377.5,62.5 L376.0,62.8Z"/><path d="M376.2,65.3 L377.1,63.3 L377.8,63.1 L379.3,63.6 L378.4,64.6 L378.2,65.2 L380.0,64.7 L381.1,64.3 L380.4,64.1 L379.1,64.6 L376.7,63.1Z"/><path d="M359.6,53.1 L362.7,52.1 L363.1,52.9 L360.9,53.4Z"/><path d="M363.6,55.2 L366.7,54.5 L365.3,55.2Z"/><path d="M427.4,65.7 L427.4,64.1 L428.3,63.3 L429.6,63.1 L431.0,63.4 L432.3,62.5 L433.4,65.2 L431.0,65.4 L428.7,65.7Z"/><path d="M435.8,63.9 L436.7,62.8 L437.8,62.5 L438.5,63.6 L437.6,64.9 L438.5,66.2 L438.9,67.8 L437.4,67.8 L436.7,67.0 L436.9,65.9 L436.1,64.9Z"/><path d="M419.4,58.6 L421.2,58.4 L423.0,58.5 L424.3,57.3 L425.6,57.1 L425.2,56.0 L428.3,55.8 L426.1,55.2 L424.5,55.2 L426.1,52.9 L424.5,52.9 L422.8,54.5 L423.4,55.8 L422.3,57.3 L420.8,58.0Z"/></g>
<rect x="335.2" y="40.1" width="159.6" height="78.3" fill="none" stroke="#555" stroke-width="0.7"/>
<rect x="222.4" y="127.8" width="16.8" height="7.2" fill="#083a6e"/><rect x="239" y="127.8" width="16.4" height="7.2" fill="#20609a"/><rect x="255.2" y="127.8" width="16.4" height="7.2" fill="#3a82b8"/><rect x="271.4" y="127.8" width="16.4" height="7.2" fill="#5d9fcc"/><rect x="287.6" y="127.8" width="16.4" height="7.2" fill="#92bfdc"/><rect x="303.8" y="127.8" width="12.4" height="7.2" fill="#c7dcec"/><rect x="316" y="127.8" width="8.2" height="7.2" fill="#f4f4f4"/><rect x="324" y="127.8" width="12.4" height="7.2" fill="#f3cccc"/><rect x="336.2" y="127.8" width="16.4" height="7.2" fill="#e8a59c"/><rect x="352.4" y="127.8" width="16.4" height="7.2" fill="#dd7468"/><rect x="368.6" y="127.8" width="16.4" height="7.2" fill="#c44a45"/><rect x="384.8" y="127.8" width="16.4" height="7.2" fill="#a02a38"/><rect x="401" y="127.8" width="16.8" height="7.2" fill="#6e0a22"/><rect x="222.4" y="127.8" width="195.2" height="7.2" fill="none" stroke="#999" stroke-width="0.6"/><line x1="222.4" y1="135" x2="222.4" y2="133.8" stroke="#444" stroke-width="0.6"/><line x1="254.9" y1="135" x2="254.9" y2="133.8" stroke="#444" stroke-width="0.6"/><line x1="287.5" y1="135" x2="287.5" y2="133.8" stroke="#444" stroke-width="0.6"/><line x1="320.0" y1="135" x2="320.0" y2="133.8" stroke="#444" stroke-width="0.6"/><line x1="352.5" y1="135" x2="352.5" y2="133.8" stroke="#444" stroke-width="0.6"/><line x1="385.1" y1="135" x2="385.1" y2="133.8" stroke="#444" stroke-width="0.6"/><line x1="417.6" y1="135" x2="417.6" y2="133.8" stroke="#444" stroke-width="0.6"/><text x="222.4" y="143.6" text-anchor="middle" font-size="6" fill="#333">-1.5</text><text x="254.9" y="143.6" text-anchor="middle" font-size="6" fill="#333">-1</text><text x="287.5" y="143.6" text-anchor="middle" font-size="6" fill="#333">-0.5</text><text x="320.0" y="143.6" text-anchor="middle" font-size="6" fill="#333">0</text><text x="352.5" y="143.6" text-anchor="middle" font-size="6" fill="#333">0.5</text><text x="385.1" y="143.6" text-anchor="middle" font-size="6" fill="#333">1</text><text x="417.6" y="143.6" text-anchor="middle" font-size="6" fill="#333">1.5</text><text x="424" y="133" font-size="6.4" fill="#333">°C</text>
<text x="208.4" y="164.3" font-size="9.68" fill="#222">(c) Time of emergence</text>
<text x="68.7" y="165.6" font-size="8.2" fill="#222">SSP1-2.6</text>
<text x="412.6" y="165.6" font-size="8.2" fill="#222">SSP5-8.5</text>
<rect x="61.7" y="169.3" width="191.9" height="95.6" fill="#fff" stroke="#999" stroke-width="0.9"/><line x1="97.3" y1="170" x2="97.3" y2="264" stroke="#ececec" stroke-width="0.5"/><line x1="127.0" y1="170" x2="127.0" y2="264" stroke="#ececec" stroke-width="0.5"/><line x1="156.7" y1="170" x2="156.7" y2="264" stroke="#ececec" stroke-width="0.5"/><line x1="186.4" y1="170" x2="186.4" y2="264" stroke="#ececec" stroke-width="0.5"/><line x1="216.1" y1="170" x2="216.1" y2="264" stroke="#ececec" stroke-width="0.5"/><line x1="62.5" y1="185.9" x2="253.0" y2="185.9" stroke="#ececec" stroke-width="0.5"/><line x1="62.5" y1="200.8" x2="253.0" y2="200.8" stroke="#ececec" stroke-width="0.5"/><line x1="62.5" y1="215.6" x2="253.0" y2="215.6" stroke="#ececec" stroke-width="0.5"/><line x1="62.5" y1="230.5" x2="253.0" y2="230.5" stroke="#ececec" stroke-width="0.5"/><line x1="62.5" y1="245.3" x2="253.0" y2="245.3" stroke="#ececec" stroke-width="0.5"/><polygon points="70.0,179.4 95.3,179.4 96.8,177.4 106.5,175.9 106.5,191.3 95.3,191.3 88.3,187.4 75.9,190.4 75.9,183.9 70.0,183.9" fill="#e98b53"/><polygon points="106.5,175.9 117.9,174.0 132.8,187.4 133.6,189.2 131.2,191.3 106.5,191.3" fill="#e98b53"/><polygon points="117.9,174.0 152.6,174.0 152.6,185.5 139.4,185.5 137.4,187.4 132.8,187.4" fill="#e98b53"/><polygon points="95.3,191.3 106.3,191.3 106.3,199.1 98.6,199.4 96.4,195.2" fill="#e2e2e2"/><polygon points="106.3,191.3 113.5,191.3 113.5,203.1 112.2,203.6 107.2,199.2 106.3,199.1" fill="#e2e2e2"/><polygon points="106.3,191.3 113.5,191.3 113.5,203.1 112.2,203.6 107.2,199.2 106.3,199.1" fill="url(#mh1)"/><polygon points="113.5,191.3 131.2,191.3 120.7,200.3 121.5,202.2 113.5,203.1" fill="#f8df8c"/><polygon points="113.5,191.3 131.2,191.3 120.7,200.3 121.5,202.2 113.5,203.1" fill="url(#mh2)"/><polygon points="98.6,199.4 107.2,199.2 113.1,204.0 107.6,207.9 100.3,201.8" fill="#e2e2e2"/><polygon points="107.6,207.9 113.1,204.0 119.9,210.3 117.1,214.3" fill="#e2e2e2"/><polygon points="107.6,207.9 113.1,204.0 119.9,210.3 117.1,214.3" fill="url(#mh2)"/><polygon points="113.1,204.0 113.5,203.1 121.5,202.2 133.4,212.7 131.8,211.5 122.7,210.7 119.9,210.3" fill="#e2e2e2"/><polygon points="113.1,204.0 113.5,203.1 121.5,202.2 133.4,212.7 131.8,211.5 122.7,210.7 119.9,210.3" fill="url(#mh2)"/><polygon points="117.1,214.3 119.9,210.3 122.7,210.7 122.7,224.2 120.6,225.2 117.6,220.5" fill="#fdfbc9"/><polygon points="117.1,214.3 119.9,210.3 122.7,210.7 122.7,224.2 120.6,225.2 117.6,220.5" fill="url(#mh2)"/><polygon points="122.7,210.7 131.8,211.5 133.4,212.7 133.4,220.6 122.7,220.6" fill="#e2e2e2"/><polygon points="122.7,210.7 131.8,211.5 133.4,212.7 133.4,220.6 122.7,220.6" fill="url(#mh2)"/><polygon points="122.7,220.6 133.4,220.6 133.4,224.5 122.7,224.5" fill="#fdfbc9"/><polygon points="122.7,220.6 133.4,220.6 133.4,224.5 122.7,224.5" fill="url(#mh2)"/><polygon points="133.4,215.9 141.8,215.9 141.8,225.9 137.8,225.9 133.4,224.5" fill="#e2e2e2"/><polygon points="133.4,215.9 141.8,215.9 141.8,225.9 137.8,225.9 133.4,224.5" fill="url(#mh1)"/><polygon points="120.6,225.2 122.7,224.5 123.2,224.5 122.6,236.5 120.0,238.0" fill="#e2e2e2"/><polygon points="120.6,225.2 122.7,224.5 123.2,224.5 122.6,236.5 120.0,238.0" fill="url(#mh2)"/><polygon points="123.2,224.5 133.4,224.5 137.8,225.9 131.2,233.8 129.2,236.5 122.6,236.5" fill="#e2e2e2"/><polygon points="123.2,224.5 133.4,224.5 137.8,225.9 131.2,233.8 129.2,236.5 122.6,236.5" fill="url(#mh2)"/><polygon points="120.0,236.5 129.2,236.5 130.3,237.5 130.3,243.8 119.3,243.8" fill="#e2e2e2"/><polygon points="152.5,180.0 176.4,179.4 176.4,185.9 152.5,191.4" fill="#e98b53"/><polygon points="152.5,191.4 176.4,185.9 176.4,193.2 152.5,193.2" fill="#fdfbc9"/><polygon points="152.5,191.4 176.4,185.9 176.4,193.2 152.5,193.2" fill="url(#mh1)"/><polygon points="152.5,193.2 176.4,193.2 176.4,200.8 152.5,200.8" fill="#e2e2e2"/><polygon points="152.5,193.2 176.4,193.2 176.4,200.8 152.5,200.8" fill="url(#mh1)"/><polygon points="147.4,201.4 174.7,201.4 177.6,208.6 147.4,208.6" fill="#e2e2e2"/><polygon points="147.4,201.4 174.7,201.4 177.6,208.6 147.4,208.6" fill="url(#mh1)"/><polygon points="147.4,208.6 164.3,208.6 161.4,214.9 147.4,212.4" fill="#d35f4a"/><polygon points="164.3,208.6 170.6,208.6 170.6,220.9 161.6,220.9 161.4,214.9" fill="#d35f4a"/><polygon points="170.6,208.6 177.6,208.6 180.3,209.1 183.1,210.7 181.5,213.6 178.0,213.6 177.0,214.6 170.6,214.6" fill="#e98b53"/><polygon points="170.6,214.6 179.8,214.6 179.8,220.9 170.6,220.9" fill="#f8df8c"/><polygon points="170.6,214.6 179.8,214.6 179.8,220.9 170.6,220.9" fill="url(#mh2)"/><polygon points="161.6,220.9 170.0,220.9 170.0,233.8 161.6,233.8" fill="#e2e2e2"/><polygon points="161.6,220.9 170.0,220.9 170.0,233.8 161.6,233.8" fill="url(#mh1)"/><polygon points="170.0,220.9 178.3,220.9 173.9,233.8 170.0,233.8" fill="#e2e2e2"/><polygon points="170.0,220.9 178.3,220.9 173.9,233.8 170.0,233.8" fill="url(#mh1)"/><polygon points="178.3,220.9 183.3,220.9 183.3,229.8 175.4,229.8" fill="#f8df8c"/><polygon points="178.3,220.9 183.3,220.9 183.3,229.8 175.4,229.8" fill="url(#mh2)"/><polygon points="176.4,179.4 202.8,175.0 244.8,179.4 244.8,183.4 176.4,183.4" fill="#e98b53"/><polygon points="176.4,183.4 186.4,183.4 186.4,193.3 176.4,193.3" fill="#e98b53"/><polygon points="186.4,183.4 201.3,183.4 201.3,193.3 186.4,193.3" fill="#d35f4a"/><polygon points="201.3,183.4 220.4,183.4 220.4,193.3 201.3,193.3" fill="#d35f4a"/><polygon points="201.3,183.4 220.4,183.4 220.4,193.3 201.3,193.3" fill="url(#mh2)"/><polygon points="220.4,183.4 244.8,183.4 244.8,186.4 234.8,189.4 231.4,193.3 220.4,193.3" fill="#e98b53"/><polygon points="176.4,193.3 193.6,193.3 193.6,201.2 186.4,201.2 176.4,201.2" fill="#e2e2e2"/><polygon points="193.6,193.3 213.0,193.3 209.6,197.6 193.6,197.6" fill="#fdfbc9"/><polygon points="193.6,193.3 213.0,193.3 209.6,197.6 193.6,197.6" fill="url(#mh2)"/><polygon points="193.6,197.6 209.6,197.6 205.6,197.6 205.6,201.0 201.6,202.0 196.8,202.0 193.6,201.2" fill="#fdfbc9"/><polygon points="193.6,197.6 209.6,197.6 205.6,197.6 205.6,201.0 201.6,202.0 196.8,202.0 193.6,201.2" fill="url(#mh2)"/><polygon points="205.6,197.6 209.6,197.6 213.0,193.3 231.4,193.3 221.9,203.4 221.9,205.9 205.6,205.9" fill="#e2e2e2"/><polygon points="174.7,201.4 181.5,201.4 186.2,206.3 180.3,209.1 177.6,208.6" fill="#e98b53"/><polygon points="174.7,201.4 181.5,201.4 186.2,206.3 180.3,209.1 177.6,208.6" fill="url(#mh2)"/><polygon points="186.4,201.2 193.6,201.2 196.8,202.0 201.6,202.0 205.6,201.0 205.6,205.9 200.2,206.8 195.9,212.4 193.3,211.6 191.2,206.0 187.6,204.2" fill="#e98b53"/><polygon points="202.6,205.9 221.9,205.9 221.9,213.4 232.4,220.6 232.4,221.3 202.6,221.3" fill="#fdfbc9"/><polygon points="202.6,205.9 221.9,205.9 221.9,213.4 232.4,220.6 232.4,221.3 202.6,221.3" fill="url(#mh2)"/><polygon points="211.0,221.3 232.5,221.3 232.5,225.0 211.0,225.0" fill="#e2e2e2"/><polygon points="211.0,225.0 228.7,225.0 228.7,231.0 211.0,231.0" fill="#e2e2e2"/><polygon points="228.7,225.0 232.5,225.0 232.5,232.5 228.7,231.0" fill="#e2e2e2"/><polygon points="211.0,231.0 228.7,231.0 232.5,232.5 232.5,240.0 211.0,234.5" fill="#e2e2e2"/><polygon points="233.0,230.7 244.5,230.7 244.5,240.8 233.0,240.8" fill="#e2e2e2"/><polygon points="233.0,230.7 244.5,230.7 244.5,240.8 233.0,240.8" fill="url(#mh1)"/><polygon points="70.0,250.4 119.0,250.4 127.0,246.4 131.0,246.4 131.0,257.0 70.0,257.0" fill="#ffffff"/><polygon points="70.0,257.0 131.0,257.0 131.0,252.5 145.5,252.5 159.8,247.2 244.5,247.2 244.5,260.8 70.0,260.8" fill="#ffffff"/><polygon points="70.0,179.4 95.3,179.4 96.8,177.4 106.5,175.9 106.5,191.3 95.3,191.3 88.3,187.4 75.9,190.4 75.9,183.9 70.0,183.9" fill="none" stroke="#111" stroke-width="0.9" stroke-linejoin="round"/><polygon points="106.5,175.9 117.9,174.0 132.8,187.4 133.6,189.2 131.2,191.3 106.5,191.3" fill="none" stroke="#111" stroke-width="0.9" stroke-linejoin="round"/><polygon points="117.9,174.0 152.6,174.0 152.6,185.5 139.4,185.5 137.4,187.4 132.8,187.4" fill="none" stroke="#111" stroke-width="0.9" stroke-linejoin="round"/><polygon points="95.3,191.3 106.3,191.3 106.3,199.1 98.6,199.4 96.4,195.2" fill="none" stroke="#111" stroke-width="0.9" stroke-linejoin="round"/><polygon points="106.3,191.3 113.5,191.3 113.5,203.1 112.2,203.6 107.2,199.2 106.3,199.1" fill="none" stroke="#111" stroke-width="0.9" stroke-linejoin="round"/><polygon points="113.5,191.3 131.2,191.3 120.7,200.3 121.5,202.2 113.5,203.1" fill="none" stroke="#111" stroke-width="0.9" stroke-linejoin="round"/><polygon points="98.6,199.4 107.2,199.2 113.1,204.0 107.6,207.9 100.3,201.8" fill="none" stroke="#111" stroke-width="0.9" stroke-linejoin="round"/><polygon points="107.6,207.9 113.1,204.0 119.9,210.3 117.1,214.3" fill="none" stroke="#111" stroke-width="0.9" stroke-linejoin="round"/><polygon points="113.1,204.0 113.5,203.1 121.5,202.2 133.4,212.7 131.8,211.5 122.7,210.7 119.9,210.3" fill="none" stroke="#111" stroke-width="0.9" stroke-linejoin="round"/><polygon points="117.1,214.3 119.9,210.3 122.7,210.7 122.7,224.2 120.6,225.2 117.6,220.5" fill="none" stroke="#111" stroke-width="0.9" stroke-linejoin="round"/><polygon points="122.7,210.7 131.8,211.5 133.4,212.7 133.4,220.6 122.7,220.6" fill="none" stroke="#111" stroke-width="0.9" stroke-linejoin="round"/><polygon points="122.7,220.6 133.4,220.6 133.4,224.5 122.7,224.5" fill="none" stroke="#111" stroke-width="0.9" stroke-linejoin="round"/><polygon points="133.4,215.9 141.8,215.9 141.8,225.9 137.8,225.9 133.4,224.5" fill="none" stroke="#111" stroke-width="0.9" stroke-linejoin="round"/><polygon points="120.6,225.2 122.7,224.5 123.2,224.5 122.6,236.5 120.0,238.0" fill="none" stroke="#111" stroke-width="0.9" stroke-linejoin="round"/><polygon points="123.2,224.5 133.4,224.5 137.8,225.9 131.2,233.8 129.2,236.5 122.6,236.5" fill="none" stroke="#111" stroke-width="0.9" stroke-linejoin="round"/><polygon points="120.0,236.5 129.2,236.5 130.3,237.5 130.3,243.8 119.3,243.8" fill="none" stroke="#111" stroke-width="0.9" stroke-linejoin="round"/><polygon points="152.5,180.0 176.4,179.4 176.4,185.9 152.5,191.4" fill="none" stroke="#111" stroke-width="0.9" stroke-linejoin="round"/><polygon points="152.5,191.4 176.4,185.9 176.4,193.2 152.5,193.2" fill="none" stroke="#111" stroke-width="0.9" stroke-linejoin="round"/><polygon points="152.5,193.2 176.4,193.2 176.4,200.8 152.5,200.8" fill="none" stroke="#111" stroke-width="0.9" stroke-linejoin="round"/><polygon points="147.4,201.4 174.7,201.4 177.6,208.6 147.4,208.6" fill="none" stroke="#111" stroke-width="0.9" stroke-linejoin="round"/><polygon points="147.4,208.6 164.3,208.6 161.4,214.9 147.4,212.4" fill="none" stroke="#111" stroke-width="0.9" stroke-linejoin="round"/><polygon points="164.3,208.6 170.6,208.6 170.6,220.9 161.6,220.9 161.4,214.9" fill="none" stroke="#111" stroke-width="0.9" stroke-linejoin="round"/><polygon points="170.6,208.6 177.6,208.6 180.3,209.1 183.1,210.7 181.5,213.6 178.0,213.6 177.0,214.6 170.6,214.6" fill="none" stroke="#111" stroke-width="0.9" stroke-linejoin="round"/><polygon points="170.6,214.6 179.8,214.6 179.8,220.9 170.6,220.9" fill="none" stroke="#111" stroke-width="0.9" stroke-linejoin="round"/><polygon points="161.6,220.9 170.0,220.9 170.0,233.8 161.6,233.8" fill="none" stroke="#111" stroke-width="0.9" stroke-linejoin="round"/><polygon points="170.0,220.9 178.3,220.9 173.9,233.8 170.0,233.8" fill="none" stroke="#111" stroke-width="0.9" stroke-linejoin="round"/><polygon points="178.3,220.9 183.3,220.9 183.3,229.8 175.4,229.8" fill="none" stroke="#111" stroke-width="0.9" stroke-linejoin="round"/><polygon points="176.4,179.4 202.8,175.0 244.8,179.4 244.8,183.4 176.4,183.4" fill="none" stroke="#111" stroke-width="0.9" stroke-linejoin="round"/><polygon points="176.4,183.4 186.4,183.4 186.4,193.3 176.4,193.3" fill="none" stroke="#111" stroke-width="0.9" stroke-linejoin="round"/><polygon points="186.4,183.4 201.3,183.4 201.3,193.3 186.4,193.3" fill="none" stroke="#111" stroke-width="0.9" stroke-linejoin="round"/><polygon points="201.3,183.4 220.4,183.4 220.4,193.3 201.3,193.3" fill="none" stroke="#111" stroke-width="0.9" stroke-linejoin="round"/><polygon points="220.4,183.4 244.8,183.4 244.8,186.4 234.8,189.4 231.4,193.3 220.4,193.3" fill="none" stroke="#111" stroke-width="0.9" stroke-linejoin="round"/><polygon points="176.4,193.3 193.6,193.3 193.6,201.2 186.4,201.2 176.4,201.2" fill="none" stroke="#111" stroke-width="0.9" stroke-linejoin="round"/><polygon points="193.6,193.3 213.0,193.3 209.6,197.6 193.6,197.6" fill="none" stroke="#111" stroke-width="0.9" stroke-linejoin="round"/><polygon points="193.6,197.6 209.6,197.6 205.6,197.6 205.6,201.0 201.6,202.0 196.8,202.0 193.6,201.2" fill="none" stroke="#111" stroke-width="0.9" stroke-linejoin="round"/><polygon points="205.6,197.6 209.6,197.6 213.0,193.3 231.4,193.3 221.9,203.4 221.9,205.9 205.6,205.9" fill="none" stroke="#111" stroke-width="0.9" stroke-linejoin="round"/><polygon points="174.7,201.4 181.5,201.4 186.2,206.3 180.3,209.1 177.6,208.6" fill="none" stroke="#111" stroke-width="0.9" stroke-linejoin="round"/><polygon points="186.4,201.2 193.6,201.2 196.8,202.0 201.6,202.0 205.6,201.0 205.6,205.9 200.2,206.8 195.9,212.4 193.3,211.6 191.2,206.0 187.6,204.2" fill="none" stroke="#111" stroke-width="0.9" stroke-linejoin="round"/><polygon points="202.6,205.9 221.9,205.9 221.9,213.4 232.4,220.6 232.4,221.3 202.6,221.3" fill="none" stroke="#111" stroke-width="0.9" stroke-linejoin="round"/><polygon points="211.0,221.3 232.5,221.3 232.5,225.0 211.0,225.0" fill="none" stroke="#111" stroke-width="0.9" stroke-linejoin="round"/><polygon points="211.0,225.0 228.7,225.0 228.7,231.0 211.0,231.0" fill="none" stroke="#111" stroke-width="0.9" stroke-linejoin="round"/><polygon points="228.7,225.0 232.5,225.0 232.5,232.5 228.7,231.0" fill="none" stroke="#111" stroke-width="0.9" stroke-linejoin="round"/><polygon points="211.0,231.0 228.7,231.0 232.5,232.5 232.5,240.0 211.0,234.5" fill="none" stroke="#111" stroke-width="0.9" stroke-linejoin="round"/><polygon points="233.0,230.7 244.5,230.7 244.5,240.8 233.0,240.8" fill="none" stroke="#111" stroke-width="0.9" stroke-linejoin="round"/><polygon points="70.0,250.4 119.0,250.4 127.0,246.4 131.0,246.4 131.0,257.0 70.0,257.0" fill="none" stroke="#111" stroke-width="0.9" stroke-linejoin="round"/><polygon points="70.0,257.0 131.0,257.0 131.0,252.5 145.5,252.5 159.8,247.2 244.5,247.2 244.5,260.8 70.0,260.8" fill="none" stroke="#111" stroke-width="0.9" stroke-linejoin="round"/>
<rect x="265.9" y="169.3" width="191.9" height="95.6" fill="#fff" stroke="#999" stroke-width="0.9"/><line x1="301.5" y1="170" x2="301.5" y2="264" stroke="#ececec" stroke-width="0.5"/><line x1="331.2" y1="170" x2="331.2" y2="264" stroke="#ececec" stroke-width="0.5"/><line x1="360.9" y1="170" x2="360.9" y2="264" stroke="#ececec" stroke-width="0.5"/><line x1="390.6" y1="170" x2="390.6" y2="264" stroke="#ececec" stroke-width="0.5"/><line x1="420.3" y1="170" x2="420.3" y2="264" stroke="#ececec" stroke-width="0.5"/><line x1="266.7" y1="185.9" x2="457.2" y2="185.9" stroke="#ececec" stroke-width="0.5"/><line x1="266.7" y1="200.8" x2="457.2" y2="200.8" stroke="#ececec" stroke-width="0.5"/><line x1="266.7" y1="215.6" x2="457.2" y2="215.6" stroke="#ececec" stroke-width="0.5"/><line x1="266.7" y1="230.5" x2="457.2" y2="230.5" stroke="#ececec" stroke-width="0.5"/><line x1="266.7" y1="245.3" x2="457.2" y2="245.3" stroke="#ececec" stroke-width="0.5"/><polygon points="274.2,179.4 299.5,179.4 301.0,177.4 310.7,175.9 310.7,191.3 299.5,191.3 292.5,187.4 280.1,190.4 280.1,183.9 274.2,183.9" fill="#e98b53"/><polygon points="310.7,175.9 322.1,174.0 337.0,187.4 337.8,189.2 335.4,191.3 310.7,191.3" fill="#e98b53"/><polygon points="322.1,174.0 356.8,174.0 356.8,185.5 343.6,185.5 341.6,187.4 337.0,187.4" fill="#e98b53"/><polygon points="299.5,191.3 310.5,191.3 310.5,199.1 302.8,199.4 300.6,195.2" fill="#fdfbc9"/><polygon points="299.5,191.3 310.5,191.3 310.5,199.1 302.8,199.4 300.6,195.2" fill="url(#mh2)"/><polygon points="310.5,191.3 317.7,191.3 317.7,203.1 316.4,203.6 311.4,199.2 310.5,199.1" fill="#fdfbc9"/><polygon points="310.5,191.3 317.7,191.3 317.7,203.1 316.4,203.6 311.4,199.2 310.5,199.1" fill="url(#mh2)"/><polygon points="317.7,191.3 335.4,191.3 324.9,200.3 325.7,202.2 317.7,203.1" fill="#e98b53"/><polygon points="302.8,199.4 311.4,199.2 317.3,204.0 311.8,207.9 304.5,201.8" fill="#e2e2e2"/><polygon points="302.8,199.4 311.4,199.2 317.3,204.0 311.8,207.9 304.5,201.8" fill="url(#mh2)"/><polygon points="311.8,207.9 317.3,204.0 324.1,210.3 321.3,214.3" fill="#f8df8c"/><polygon points="317.3,204.0 317.7,203.1 325.7,202.2 337.6,212.7 336.0,211.5 326.9,210.7 324.1,210.3" fill="#f8df8c"/><polygon points="317.3,204.0 317.7,203.1 325.7,202.2 337.6,212.7 336.0,211.5 326.9,210.7 324.1,210.3" fill="url(#mh2)"/><polygon points="321.3,214.3 324.1,210.3 326.9,210.7 326.9,224.2 324.8,225.2 321.8,220.5" fill="#f8df8c"/><polygon points="326.9,210.7 336.0,211.5 337.6,212.7 337.6,220.6 326.9,220.6" fill="#efb25a"/><polygon points="326.9,220.6 337.6,220.6 337.6,224.5 326.9,224.5" fill="#efb25a"/><polygon points="337.6,215.9 346.0,215.9 346.0,225.9 342.0,225.9 337.6,224.5" fill="#fdfbc9"/><polygon points="337.6,215.9 346.0,215.9 346.0,225.9 342.0,225.9 337.6,224.5" fill="url(#mh2)"/><polygon points="324.8,225.2 326.9,224.5 327.4,224.5 326.8,236.5 324.2,238.0" fill="#f8df8c"/><polygon points="327.4,224.5 337.6,224.5 342.0,225.9 335.4,233.8 333.4,236.5 326.8,236.5" fill="#f8df8c"/><polygon points="324.2,236.5 333.4,236.5 334.5,237.5 334.5,243.8 323.5,243.8" fill="#f8df8c"/><polygon points="356.7,180.0 380.6,179.4 380.6,185.9 356.7,191.4" fill="#d35f4a"/><polygon points="356.7,191.4 380.6,185.9 380.6,193.2 356.7,193.2" fill="#f8df8c"/><polygon points="356.7,193.2 380.6,193.2 380.6,200.8 356.7,200.8" fill="#f8df8c"/><polygon points="351.6,201.4 378.9,201.4 381.8,208.6 351.6,208.6" fill="#e98b53"/><polygon points="351.6,208.6 368.5,208.6 365.6,214.9 351.6,212.4" fill="#d35f4a"/><polygon points="368.5,208.6 374.8,208.6 374.8,220.9 365.8,220.9 365.6,214.9" fill="#d35f4a"/><polygon points="374.8,208.6 381.8,208.6 384.5,209.1 387.3,210.7 385.7,213.6 382.2,213.6 381.2,214.6 374.8,214.6" fill="#e98b53"/><polygon points="374.8,214.6 384.0,214.6 384.0,220.9 374.8,220.9" fill="#e98b53"/><polygon points="365.8,220.9 374.2,220.9 374.2,233.8 365.8,233.8" fill="#f8df8c"/><polygon points="374.2,220.9 382.5,220.9 378.1,233.8 374.2,233.8" fill="#fdfbc9"/><polygon points="374.2,220.9 382.5,220.9 378.1,233.8 374.2,233.8" fill="url(#mh2)"/><polygon points="382.5,220.9 387.5,220.9 387.5,229.8 379.6,229.8" fill="#efb25a"/><polygon points="380.6,179.4 407.0,175.0 449.0,179.4 449.0,183.4 380.6,183.4" fill="#e98b53"/><polygon points="380.6,183.4 390.6,183.4 390.6,193.3 380.6,193.3" fill="#e98b53"/><polygon points="390.6,183.4 405.5,183.4 405.5,193.3 390.6,193.3" fill="#d35f4a"/><polygon points="405.5,183.4 424.6,183.4 424.6,193.3 405.5,193.3" fill="#d35f4a"/><polygon points="424.6,183.4 449.0,183.4 449.0,186.4 439.0,189.4 435.6,193.3 424.6,193.3" fill="#e98b53"/><polygon points="380.6,193.3 397.8,193.3 397.8,201.2 390.6,201.2 380.6,201.2" fill="#fdfbc9"/><polygon points="380.6,193.3 397.8,193.3 397.8,201.2 390.6,201.2 380.6,201.2" fill="url(#mh2)"/><polygon points="397.8,193.3 417.2,193.3 413.8,197.6 397.8,197.6" fill="#efb25a"/><polygon points="397.8,197.6 413.8,197.6 409.8,197.6 409.8,201.0 405.8,202.0 401.0,202.0 397.8,201.2" fill="#efb25a"/><polygon points="409.8,197.6 413.8,197.6 417.2,193.3 435.6,193.3 426.1,203.4 426.1,205.9 409.8,205.9" fill="#f8df8c"/><polygon points="378.9,201.4 385.7,201.4 390.4,206.3 384.5,209.1 381.8,208.6" fill="#d35f4a"/><polygon points="390.6,201.2 397.8,201.2 401.0,202.0 405.8,202.0 409.8,201.0 409.8,205.9 404.4,206.8 400.1,212.4 397.5,211.6 395.4,206.0 391.8,204.2" fill="#e98b53"/><polygon points="406.8,205.9 426.1,205.9 426.1,213.4 436.6,220.6 436.6,221.3 406.8,221.3" fill="#f8df8c"/><polygon points="415.2,221.3 436.7,221.3 436.7,225.0 415.2,225.0" fill="#fdfbc9"/><polygon points="415.2,221.3 436.7,221.3 436.7,225.0 415.2,225.0" fill="url(#mh1)"/><polygon points="415.2,225.0 432.9,225.0 432.9,231.0 415.2,231.0" fill="#e2e2e2"/><polygon points="415.2,225.0 432.9,225.0 432.9,231.0 415.2,231.0" fill="url(#mh1)"/><polygon points="432.9,225.0 436.7,225.0 436.7,232.5 432.9,231.0" fill="#fdfbc9"/><polygon points="432.9,225.0 436.7,225.0 436.7,232.5 432.9,231.0" fill="url(#mh1)"/><polygon points="415.2,231.0 432.9,231.0 436.7,232.5 436.7,240.0 415.2,234.5" fill="#e2e2e2"/><polygon points="415.2,231.0 432.9,231.0 436.7,232.5 436.7,240.0 415.2,234.5" fill="url(#mh1)"/><polygon points="437.2,230.7 448.7,230.7 448.7,240.8 437.2,240.8" fill="#f8df8c"/><polygon points="274.2,250.4 323.2,250.4 331.2,246.4 335.2,246.4 335.2,257.0 274.2,257.0" fill="#ffffff"/><polygon points="274.2,257.0 335.2,257.0 335.2,252.5 349.7,252.5 364.0,247.2 448.7,247.2 448.7,260.8 274.2,260.8" fill="#ffffff"/><polygon points="274.2,179.4 299.5,179.4 301.0,177.4 310.7,175.9 310.7,191.3 299.5,191.3 292.5,187.4 280.1,190.4 280.1,183.9 274.2,183.9" fill="none" stroke="#111" stroke-width="0.9" stroke-linejoin="round"/><polygon points="310.7,175.9 322.1,174.0 337.0,187.4 337.8,189.2 335.4,191.3 310.7,191.3" fill="none" stroke="#111" stroke-width="0.9" stroke-linejoin="round"/><polygon points="322.1,174.0 356.8,174.0 356.8,185.5 343.6,185.5 341.6,187.4 337.0,187.4" fill="none" stroke="#111" stroke-width="0.9" stroke-linejoin="round"/><polygon points="299.5,191.3 310.5,191.3 310.5,199.1 302.8,199.4 300.6,195.2" fill="none" stroke="#111" stroke-width="0.9" stroke-linejoin="round"/><polygon points="310.5,191.3 317.7,191.3 317.7,203.1 316.4,203.6 311.4,199.2 310.5,199.1" fill="none" stroke="#111" stroke-width="0.9" stroke-linejoin="round"/><polygon points="317.7,191.3 335.4,191.3 324.9,200.3 325.7,202.2 317.7,203.1" fill="none" stroke="#111" stroke-width="0.9" stroke-linejoin="round"/><polygon points="302.8,199.4 311.4,199.2 317.3,204.0 311.8,207.9 304.5,201.8" fill="none" stroke="#111" stroke-width="0.9" stroke-linejoin="round"/><polygon points="311.8,207.9 317.3,204.0 324.1,210.3 321.3,214.3" fill="none" stroke="#111" stroke-width="0.9" stroke-linejoin="round"/><polygon points="317.3,204.0 317.7,203.1 325.7,202.2 337.6,212.7 336.0,211.5 326.9,210.7 324.1,210.3" fill="none" stroke="#111" stroke-width="0.9" stroke-linejoin="round"/><polygon points="321.3,214.3 324.1,210.3 326.9,210.7 326.9,224.2 324.8,225.2 321.8,220.5" fill="none" stroke="#111" stroke-width="0.9" stroke-linejoin="round"/><polygon points="326.9,210.7 336.0,211.5 337.6,212.7 337.6,220.6 326.9,220.6" fill="none" stroke="#111" stroke-width="0.9" stroke-linejoin="round"/><polygon points="326.9,220.6 337.6,220.6 337.6,224.5 326.9,224.5" fill="none" stroke="#111" stroke-width="0.9" stroke-linejoin="round"/><polygon points="337.6,215.9 346.0,215.9 346.0,225.9 342.0,225.9 337.6,224.5" fill="none" stroke="#111" stroke-width="0.9" stroke-linejoin="round"/><polygon points="324.8,225.2 326.9,224.5 327.4,224.5 326.8,236.5 324.2,238.0" fill="none" stroke="#111" stroke-width="0.9" stroke-linejoin="round"/><polygon points="327.4,224.5 337.6,224.5 342.0,225.9 335.4,233.8 333.4,236.5 326.8,236.5" fill="none" stroke="#111" stroke-width="0.9" stroke-linejoin="round"/><polygon points="324.2,236.5 333.4,236.5 334.5,237.5 334.5,243.8 323.5,243.8" fill="none" stroke="#111" stroke-width="0.9" stroke-linejoin="round"/><polygon points="356.7,180.0 380.6,179.4 380.6,185.9 356.7,191.4" fill="none" stroke="#111" stroke-width="0.9" stroke-linejoin="round"/><polygon points="356.7,191.4 380.6,185.9 380.6,193.2 356.7,193.2" fill="none" stroke="#111" stroke-width="0.9" stroke-linejoin="round"/><polygon points="356.7,193.2 380.6,193.2 380.6,200.8 356.7,200.8" fill="none" stroke="#111" stroke-width="0.9" stroke-linejoin="round"/><polygon points="351.6,201.4 378.9,201.4 381.8,208.6 351.6,208.6" fill="none" stroke="#111" stroke-width="0.9" stroke-linejoin="round"/><polygon points="351.6,208.6 368.5,208.6 365.6,214.9 351.6,212.4" fill="none" stroke="#111" stroke-width="0.9" stroke-linejoin="round"/><polygon points="368.5,208.6 374.8,208.6 374.8,220.9 365.8,220.9 365.6,214.9" fill="none" stroke="#111" stroke-width="0.9" stroke-linejoin="round"/><polygon points="374.8,208.6 381.8,208.6 384.5,209.1 387.3,210.7 385.7,213.6 382.2,213.6 381.2,214.6 374.8,214.6" fill="none" stroke="#111" stroke-width="0.9" stroke-linejoin="round"/><polygon points="374.8,214.6 384.0,214.6 384.0,220.9 374.8,220.9" fill="none" stroke="#111" stroke-width="0.9" stroke-linejoin="round"/><polygon points="365.8,220.9 374.2,220.9 374.2,233.8 365.8,233.8" fill="none" stroke="#111" stroke-width="0.9" stroke-linejoin="round"/><polygon points="374.2,220.9 382.5,220.9 378.1,233.8 374.2,233.8" fill="none" stroke="#111" stroke-width="0.9" stroke-linejoin="round"/><polygon points="382.5,220.9 387.5,220.9 387.5,229.8 379.6,229.8" fill="none" stroke="#111" stroke-width="0.9" stroke-linejoin="round"/><polygon points="380.6,179.4 407.0,175.0 449.0,179.4 449.0,183.4 380.6,183.4" fill="none" stroke="#111" stroke-width="0.9" stroke-linejoin="round"/><polygon points="380.6,183.4 390.6,183.4 390.6,193.3 380.6,193.3" fill="none" stroke="#111" stroke-width="0.9" stroke-linejoin="round"/><polygon points="390.6,183.4 405.5,183.4 405.5,193.3 390.6,193.3" fill="none" stroke="#111" stroke-width="0.9" stroke-linejoin="round"/><polygon points="405.5,183.4 424.6,183.4 424.6,193.3 405.5,193.3" fill="none" stroke="#111" stroke-width="0.9" stroke-linejoin="round"/><polygon points="424.6,183.4 449.0,183.4 449.0,186.4 439.0,189.4 435.6,193.3 424.6,193.3" fill="none" stroke="#111" stroke-width="0.9" stroke-linejoin="round"/><polygon points="380.6,193.3 397.8,193.3 397.8,201.2 390.6,201.2 380.6,201.2" fill="none" stroke="#111" stroke-width="0.9" stroke-linejoin="round"/><polygon points="397.8,193.3 417.2,193.3 413.8,197.6 397.8,197.6" fill="none" stroke="#111" stroke-width="0.9" stroke-linejoin="round"/><polygon points="397.8,197.6 413.8,197.6 409.8,197.6 409.8,201.0 405.8,202.0 401.0,202.0 397.8,201.2" fill="none" stroke="#111" stroke-width="0.9" stroke-linejoin="round"/><polygon points="409.8,197.6 413.8,197.6 417.2,193.3 435.6,193.3 426.1,203.4 426.1,205.9 409.8,205.9" fill="none" stroke="#111" stroke-width="0.9" stroke-linejoin="round"/><polygon points="378.9,201.4 385.7,201.4 390.4,206.3 384.5,209.1 381.8,208.6" fill="none" stroke="#111" stroke-width="0.9" stroke-linejoin="round"/><polygon points="390.6,201.2 397.8,201.2 401.0,202.0 405.8,202.0 409.8,201.0 409.8,205.9 404.4,206.8 400.1,212.4 397.5,211.6 395.4,206.0 391.8,204.2" fill="none" stroke="#111" stroke-width="0.9" stroke-linejoin="round"/><polygon points="406.8,205.9 426.1,205.9 426.1,213.4 436.6,220.6 436.6,221.3 406.8,221.3" fill="none" stroke="#111" stroke-width="0.9" stroke-linejoin="round"/><polygon points="415.2,221.3 436.7,221.3 436.7,225.0 415.2,225.0" fill="none" stroke="#111" stroke-width="0.9" stroke-linejoin="round"/><polygon points="415.2,225.0 432.9,225.0 432.9,231.0 415.2,231.0" fill="none" stroke="#111" stroke-width="0.9" stroke-linejoin="round"/><polygon points="432.9,225.0 436.7,225.0 436.7,232.5 432.9,231.0" fill="none" stroke="#111" stroke-width="0.9" stroke-linejoin="round"/><polygon points="415.2,231.0 432.9,231.0 436.7,232.5 436.7,240.0 415.2,234.5" fill="none" stroke="#111" stroke-width="0.9" stroke-linejoin="round"/><polygon points="437.2,230.7 448.7,230.7 448.7,240.8 437.2,240.8" fill="none" stroke="#111" stroke-width="0.9" stroke-linejoin="round"/><polygon points="274.2,250.4 323.2,250.4 331.2,246.4 335.2,246.4 335.2,257.0 274.2,257.0" fill="none" stroke="#111" stroke-width="0.9" stroke-linejoin="round"/><polygon points="274.2,257.0 335.2,257.0 335.2,252.5 349.7,252.5 364.0,247.2 448.7,247.2 448.7,260.8 274.2,260.8" fill="none" stroke="#111" stroke-width="0.9" stroke-linejoin="round"/>
<rect x="59" y="273.5" width="26" height="13" fill="#1b1506" stroke="#222" stroke-width="0.6"/><rect x="85" y="273.5" width="26" height="13" fill="#562c1f" stroke="#222" stroke-width="0.6"/><rect x="111" y="273.5" width="26" height="13" fill="#8d413d" stroke="#222" stroke-width="0.6"/><rect x="137" y="273.5" width="26" height="13" fill="#d35f4a" stroke="#222" stroke-width="0.6"/><rect x="163" y="273.5" width="26" height="13" fill="#e98b53" stroke="#222" stroke-width="0.6"/><rect x="189" y="273.5" width="26" height="13" fill="#efb25a" stroke="#222" stroke-width="0.6"/><rect x="215" y="273.5" width="26" height="13" fill="#f8df8c" stroke="#222" stroke-width="0.6"/><rect x="241" y="273.5" width="26" height="13" fill="#fdfbc9" stroke="#222" stroke-width="0.6"/><text x="59.8" y="296" text-anchor="middle" font-size="6.25" fill="#222">1910</text><text x="85.8" y="296" text-anchor="middle" font-size="6.25" fill="#222">1930</text><text x="111.8" y="296" text-anchor="middle" font-size="6.25" fill="#222">1950</text><text x="137.8" y="296" text-anchor="middle" font-size="6.25" fill="#222">1970</text><text x="163.8" y="296" text-anchor="middle" font-size="6.25" fill="#222">1990</text><text x="189.8" y="296" text-anchor="middle" font-size="6.25" fill="#222">2010</text><text x="215.8" y="296" text-anchor="middle" font-size="6.25" fill="#222">2030</text><text x="241.8" y="296" text-anchor="middle" font-size="6.25" fill="#222">2050</text><text x="267.8" y="296" text-anchor="middle" font-size="6.25" fill="#222">2070</text><rect x="287" y="274.2" width="42" height="12.4" fill="#e6e6e6" stroke="#222" stroke-width="0.6"/><text x="287" y="295.4" font-size="6.4" fill="#222">No emergence</text><rect x="349.2" y="273.6" width="13.2" height="13" fill="url(#h1)" stroke="#222" stroke-width="0.6"/><text x="365.8" y="282.7" font-size="6.4" fill="#222">6-10 models</text><rect x="405.8" y="273.6" width="13.2" height="13" fill="url(#h2)" stroke="#222" stroke-width="0.6"/><text x="422.6" y="282.7" font-size="6.42" fill="#222">11-14 models</text>
</svg></body></html>
